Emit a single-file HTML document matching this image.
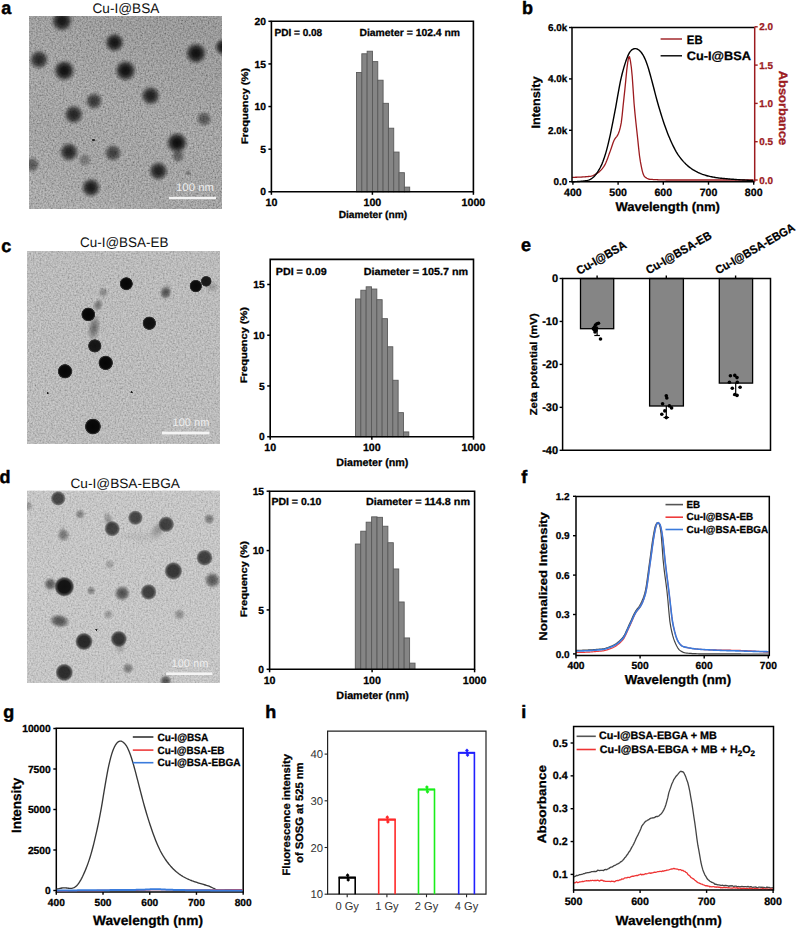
<!DOCTYPE html>
<html><head><meta charset="utf-8"><style>
html,body{margin:0;padding:0;background:#fff;overflow:hidden;width:797px;height:928px;}
svg{display:block;}
text{font-family:"Liberation Sans", sans-serif;text-rendering:geometricPrecision;}
</style></head><body>
<svg width="797" height="928" viewBox="0 0 797 928">
<defs>
<filter id="noise" x="0" y="0" width="100%" height="100%">
<feTurbulence type="fractalNoise" baseFrequency="0.6" numOctaves="2" seed="3"/>
<feColorMatrix type="matrix" values="1.2 0 0 0 -0.1  1.2 0 0 0 -0.1  1.2 0 0 0 -0.1  0 0 0 0 1"/>
</filter>
<filter id="blur3" x="-50%" y="-50%" width="200%" height="200%"><feGaussianBlur stdDeviation="3"/></filter>
<radialGradient id="g_soft"><stop offset="0" stop-color="#080808"/><stop offset="0.3" stop-color="#0c0c0c" stop-opacity="0.96"/><stop offset="0.55" stop-color="#161616" stop-opacity="0.78"/><stop offset="0.75" stop-color="#2a2a2a" stop-opacity="0.42"/><stop offset="0.9" stop-color="#3a3a3a" stop-opacity="0.13"/><stop offset="1" stop-color="#444" stop-opacity="0"/></radialGradient>
<linearGradient id="g_shadeA" x1="0.7" y1="0" x2="0.3" y2="1"><stop offset="0" stop-color="#000" stop-opacity="0.07"/><stop offset="0.5" stop-color="#000" stop-opacity="0"/><stop offset="1" stop-color="#fff" stop-opacity="0.06"/></linearGradient>
<radialGradient id="g_hard"><stop offset="0" stop-color="#050505"/><stop offset="0.75" stop-color="#0a0a0a"/><stop offset="0.92" stop-color="#222" stop-opacity="0.85"/><stop offset="1" stop-color="#444" stop-opacity="0"/></radialGradient>
<radialGradient id="g_cloud"><stop offset="0" stop-color="#444" stop-opacity="0.8"/><stop offset="0.5" stop-color="#555" stop-opacity="0.55"/><stop offset="1" stop-color="#666" stop-opacity="0"/></radialGradient>
<radialGradient id="g_mid"><stop offset="0" stop-color="#111"/><stop offset="0.6" stop-color="#151515"/><stop offset="0.82" stop-color="#222" stop-opacity="0.75"/><stop offset="1" stop-color="#333" stop-opacity="0"/></radialGradient>
</defs>
<rect x="0" y="0" width="797" height="928" fill="#fff"/>
<text x="1.2" y="13.7" font-size="18" font-weight="bold" stroke="#000" stroke-width="0.45">a</text>
<text x="522" y="13.8" font-size="18" font-weight="bold" stroke="#000" stroke-width="0.45">b</text>
<text x="1.2" y="251.7" font-size="18" font-weight="bold" stroke="#000" stroke-width="0.45">c</text>
<text x="521" y="251.4" font-size="18" font-weight="bold" stroke="#000" stroke-width="0.45">e</text>
<text x="-0.6" y="483" font-size="18" font-weight="bold" stroke="#000" stroke-width="0.45">d</text>
<text x="521.2" y="483.1" font-size="18" font-weight="bold" stroke="#000" stroke-width="0.45">f</text>
<text x="3.2" y="718" font-size="18" font-weight="bold" stroke="#000" stroke-width="0.45">g</text>
<text x="265.2" y="717.8" font-size="18" font-weight="bold" stroke="#000" stroke-width="0.45">h</text>
<text x="521.2" y="717.8" font-size="18" font-weight="bold" stroke="#000" stroke-width="0.45">i</text>
<clipPath id="ca"><rect x="29" y="16" width="193" height="193"/></clipPath>
<g clip-path="url(#ca)">
<rect x="29" y="16" width="193" height="193" fill="#939393" stroke="none" stroke-width="1"/>
<rect x="29" y="16" width="193" height="193" fill="#000" filter="url(#noise)" opacity="0.45"/>
<rect x="29" y="16" width="193" height="193" fill="url(#g_shadeA)" stroke="none" stroke-width="1"/>
<circle cx="62" cy="21" r="12.1" fill="url(#g_soft)" opacity="0.9"/>
<circle cx="114.5" cy="42.5" r="11" fill="url(#g_soft)" opacity="0.92"/>
<circle cx="196" cy="53.3" r="12.1" fill="url(#g_soft)" opacity="0.95"/>
<circle cx="223.5" cy="47" r="9.9" fill="url(#g_soft)" opacity="0.9"/>
<circle cx="39" cy="59.6" r="11" fill="url(#g_soft)" opacity="0.8"/>
<circle cx="64.3" cy="70.6" r="12.1" fill="url(#g_soft)" opacity="0.95"/>
<circle cx="125.5" cy="70.6" r="12.1" fill="url(#g_soft)" opacity="0.95"/>
<circle cx="150.6" cy="95.7" r="11" fill="url(#g_soft)" opacity="0.85"/>
<circle cx="94" cy="101" r="9.9" fill="url(#g_soft)" opacity="0.7"/>
<circle cx="73.7" cy="114.5" r="11" fill="url(#g_soft)" opacity="0.82"/>
<circle cx="204" cy="119" r="8.8" fill="url(#g_soft)" opacity="0.5"/>
<circle cx="177" cy="142.7" r="12.1" fill="url(#g_soft)" opacity="0.97"/>
<circle cx="178" cy="156" r="7.7" fill="url(#g_soft)" opacity="0.45"/>
<circle cx="69" cy="152" r="11" fill="url(#g_soft)" opacity="0.82"/>
<circle cx="113" cy="153" r="9.9" fill="url(#g_soft)" opacity="0.65"/>
<circle cx="84.7" cy="160" r="7.7" fill="url(#g_soft)" opacity="0.3"/>
<circle cx="32" cy="164.7" r="8.8" fill="url(#g_soft)" opacity="0.5"/>
<circle cx="158.4" cy="171" r="11" fill="url(#g_soft)" opacity="0.85"/>
<circle cx="91" cy="187.6" r="11" fill="url(#g_soft)" opacity="0.88"/>
<circle cx="93.5" cy="140" r="1.5" fill="url(#g_hard)" opacity="0.8"/>
<circle cx="188" cy="173" r="3.3" fill="url(#g_soft)" opacity="0.3"/>
<rect x="169" y="196.8" width="47" height="2.4" fill="#f4f4f4" stroke="none" stroke-width="1"/>
<text x="176" y="191" font-size="11" font-weight="normal" text-anchor="start" fill="#eeeeee" textLength="38" lengthAdjust="spacingAndGlyphs">100 nm</text>
</g>
<text x="92.5" y="13" font-size="13.8" font-weight="normal" text-anchor="start" fill="#111" textLength="66.8" lengthAdjust="spacingAndGlyphs">Cu-I@BSA</text>
<clipPath id="cc"><rect x="27" y="251" width="193" height="193"/></clipPath>
<g clip-path="url(#cc)">
<rect x="27" y="251" width="193" height="193" fill="#bbbbbb" stroke="none" stroke-width="1"/>
<rect x="27" y="251" width="193" height="193" fill="#000" filter="url(#noise)" opacity="0.36"/>
<ellipse cx="94" cy="328" rx="6.75" ry="14" fill="url(#g_cloud)" opacity="0.9" transform="rotate(10 94 328)"/>
<ellipse cx="98" cy="305" rx="5.25" ry="7" fill="url(#g_cloud)" opacity="0.85" transform="rotate(20 98 305)"/>
<ellipse cx="212" cy="287" rx="7.5" ry="5.6" fill="url(#g_cloud)" opacity="0.4" transform="rotate(0 212 287)"/>
<ellipse cx="166" cy="292" rx="6" ry="9.8" fill="url(#g_cloud)" opacity="0.5" transform="rotate(15 166 292)"/>
<circle cx="126.3" cy="283.7" r="6.8" fill="url(#g_hard)" opacity="1"/>
<circle cx="195.8" cy="286.1" r="6.5" fill="url(#g_hard)" opacity="0.98"/>
<circle cx="206.2" cy="281.3" r="5.6" fill="url(#g_hard)" opacity="0.9"/>
<circle cx="165.7" cy="292.6" r="6.6" fill="url(#g_soft)" opacity="0.45"/>
<circle cx="103.3" cy="292.2" r="5.5" fill="url(#g_soft)" opacity="0.28"/>
<circle cx="88.3" cy="314.4" r="7.2" fill="url(#g_hard)" opacity="1"/>
<circle cx="149.3" cy="323.2" r="7" fill="url(#g_hard)" opacity="0.95"/>
<circle cx="94.8" cy="345.9" r="7" fill="url(#g_hard)" opacity="0.92"/>
<circle cx="105.7" cy="362.9" r="7.5" fill="url(#g_hard)" opacity="1"/>
<circle cx="65" cy="371.3" r="7.5" fill="url(#g_hard)" opacity="1"/>
<circle cx="92.9" cy="426.5" r="8.3" fill="url(#g_hard)" opacity="1"/>
<circle cx="47.6" cy="393.1" r="1.2" fill="url(#g_hard)" opacity="0.9"/>
<circle cx="131.6" cy="392.2" r="1.2" fill="url(#g_hard)" opacity="0.9"/>
<rect x="162" y="431.6" width="47.5" height="2.8" fill="#f4f4f4" stroke="none" stroke-width="1"/>
<text x="172.5" y="425.5" font-size="11" font-weight="normal" text-anchor="start" fill="#eeeeee" textLength="37" lengthAdjust="spacingAndGlyphs">100 nm</text>
</g>
<text x="80" y="247.4" font-size="13.8" font-weight="normal" text-anchor="start" fill="#111" textLength="88.4" lengthAdjust="spacingAndGlyphs">Cu-I@BSA-EB</text>
<clipPath id="cd"><rect x="27" y="490.5" width="193" height="192.5"/></clipPath>
<g clip-path="url(#cd)">
<rect x="27" y="490.5" width="193" height="192.5" fill="#cacaca" stroke="none" stroke-width="1"/>
<rect x="27" y="490.5" width="193" height="192.5" fill="#000" filter="url(#noise)" opacity="0.32"/>
<ellipse cx="108.5" cy="520" rx="5.25" ry="9.8" fill="url(#g_cloud)" opacity="0.55" transform="rotate(-20 108.5 520)"/>
<ellipse cx="120" cy="646" rx="6" ry="8.4" fill="url(#g_cloud)" opacity="0.45" transform="rotate(0 120 646)"/>
<ellipse cx="158" cy="530" rx="7.5" ry="11.2" fill="url(#g_cloud)" opacity="0.5" transform="rotate(40 158 530)"/>
<ellipse cx="140" cy="537" rx="24" ry="5.6" fill="url(#g_cloud)" opacity="0.13" transform="rotate(5 140 537)"/>
<ellipse cx="63" cy="532" rx="4.5" ry="8.4" fill="url(#g_cloud)" opacity="0.3" transform="rotate(-10 63 532)"/>
<circle cx="58.2" cy="498.4" r="7.6" fill="url(#g_mid)" opacity="0.72"/>
<circle cx="80.1" cy="514.3" r="5.5" fill="url(#g_soft)" opacity="0.35"/>
<circle cx="135.4" cy="517.7" r="7.6" fill="url(#g_mid)" opacity="0.72"/>
<circle cx="112.2" cy="528.7" r="8" fill="url(#g_mid)" opacity="0.74"/>
<circle cx="166.2" cy="524.3" r="8.2" fill="url(#g_mid)" opacity="0.74"/>
<circle cx="209.2" cy="519" r="6.05" fill="url(#g_soft)" opacity="0.4"/>
<circle cx="63.5" cy="535.3" r="7.15" fill="url(#g_soft)" opacity="0.35"/>
<circle cx="204.5" cy="557.7" r="8.4" fill="url(#g_mid)" opacity="0.75"/>
<circle cx="173.4" cy="570.9" r="9.2" fill="url(#g_mid)" opacity="0.8"/>
<circle cx="64.3" cy="586.7" r="10.2" fill="url(#g_mid)" opacity="1"/>
<circle cx="50.3" cy="584.1" r="7.15" fill="url(#g_soft)" opacity="0.55"/>
<circle cx="91.1" cy="590.7" r="4.95" fill="url(#g_soft)" opacity="0.35"/>
<circle cx="122.2" cy="593.3" r="8.58" fill="url(#g_soft)" opacity="0.58"/>
<circle cx="148.6" cy="592" r="8.2" fill="url(#g_mid)" opacity="0.75"/>
<circle cx="212.4" cy="580.1" r="8.8" fill="url(#g_soft)" opacity="0.58"/>
<circle cx="108.3" cy="614.4" r="5.5" fill="url(#g_soft)" opacity="0.22"/>
<circle cx="179.4" cy="614.4" r="6.05" fill="url(#g_soft)" opacity="0.3"/>
<circle cx="84" cy="641.5" r="9" fill="url(#g_mid)" opacity="0.88"/>
<circle cx="118.8" cy="638.9" r="8.4" fill="url(#g_mid)" opacity="0.8"/>
<circle cx="64.3" cy="672.4" r="9" fill="url(#g_mid)" opacity="0.85"/>
<circle cx="128" cy="668.4" r="6.05" fill="url(#g_soft)" opacity="0.4"/>
<circle cx="165.7" cy="681" r="6.6" fill="url(#g_soft)" opacity="0.6"/>
<circle cx="109.6" cy="564.3" r="5.5" fill="url(#g_soft)" opacity="0.2"/>
<circle cx="96.4" cy="629.7" r="1.2" fill="url(#g_hard)" opacity="0.9"/>
<circle cx="28" cy="506" r="5.5" fill="url(#g_soft)" opacity="0.25"/>
<ellipse cx="59.5" cy="621" rx="11" ry="7.5" fill="url(#g_soft)" opacity="0.6" transform="rotate(10 59.5 621)"/>
<ellipse cx="122.5" cy="593.5" rx="8.5" ry="7" fill="url(#g_soft)" opacity="0.1" transform="rotate(0 122.5 593.5)"/>
<rect x="166.2" y="672.4" width="46.2" height="2.6" fill="#f4f4f4" stroke="none" stroke-width="1"/>
<text x="171.5" y="667.1" font-size="11" font-weight="normal" text-anchor="start" fill="#eeeeee" textLength="36.9" lengthAdjust="spacingAndGlyphs">100 nm</text>
</g>
<text x="70.5" y="488.1" font-size="13.5" font-weight="normal" text-anchor="start" fill="#111" textLength="109.4" lengthAdjust="spacingAndGlyphs">Cu-I@BSA-EBGA</text>
<rect x="356.5" y="72.45" width="5.32" height="119.35" fill="#858585" stroke="#5a5a5a" stroke-width="0.9"/>
<rect x="361.82" y="53.78" width="5.32" height="138.02" fill="#858585" stroke="#5a5a5a" stroke-width="0.9"/>
<rect x="367.14" y="51.22" width="5.32" height="140.58" fill="#858585" stroke="#5a5a5a" stroke-width="0.9"/>
<rect x="372.46" y="61.62" width="5.32" height="130.18" fill="#858585" stroke="#5a5a5a" stroke-width="0.9"/>
<rect x="377.78" y="80.21" width="5.32" height="111.59" fill="#858585" stroke="#5a5a5a" stroke-width="0.9"/>
<rect x="383.1" y="103.31" width="5.32" height="88.49" fill="#858585" stroke="#5a5a5a" stroke-width="0.9"/>
<rect x="388.42" y="128.2" width="5.32" height="63.6" fill="#858585" stroke="#5a5a5a" stroke-width="0.9"/>
<rect x="393.74" y="152.07" width="5.32" height="39.73" fill="#858585" stroke="#5a5a5a" stroke-width="0.9"/>
<rect x="399.06" y="172.7" width="5.32" height="19.1" fill="#858585" stroke="#5a5a5a" stroke-width="0.9"/>
<rect x="404.38" y="187.11" width="5.32" height="4.69" fill="#858585" stroke="#5a5a5a" stroke-width="0.9"/>
<path d="M271.4,21.3 H473.4 V191.8 H271.4 Z" fill="none" stroke="#000" stroke-width="1.6"/>
<line x1="268.4" y1="191.8" x2="271.4" y2="191.8" stroke="#000" stroke-width="1.5"/>
<text x="265.9" y="195.4" font-size="10.3" font-weight="bold" text-anchor="end" fill="#000" stroke="#000" stroke-width="0.28">0</text>
<line x1="268.4" y1="149.18" x2="271.4" y2="149.18" stroke="#000" stroke-width="1.5"/>
<text x="265.9" y="152.78" font-size="10.3" font-weight="bold" text-anchor="end" fill="#000" stroke="#000" stroke-width="0.28">5</text>
<line x1="268.4" y1="106.55" x2="271.4" y2="106.55" stroke="#000" stroke-width="1.5"/>
<text x="265.9" y="110.15" font-size="10.3" font-weight="bold" text-anchor="end" fill="#000" stroke="#000" stroke-width="0.28">10</text>
<line x1="268.4" y1="63.93" x2="271.4" y2="63.93" stroke="#000" stroke-width="1.5"/>
<text x="265.9" y="67.53" font-size="10.3" font-weight="bold" text-anchor="end" fill="#000" stroke="#000" stroke-width="0.28">15</text>
<line x1="268.4" y1="21.3" x2="271.4" y2="21.3" stroke="#000" stroke-width="1.5"/>
<text x="265.9" y="24.9" font-size="10.3" font-weight="bold" text-anchor="end" fill="#000" stroke="#000" stroke-width="0.28">20</text>
<line x1="271.4" y1="191.8" x2="271.4" y2="194.8" stroke="#000" stroke-width="1.5"/>
<text x="271.4" y="205.6" font-size="10.7" font-weight="bold" text-anchor="middle" fill="#000" stroke="#000" stroke-width="0.28">10</text>
<line x1="372.4" y1="191.8" x2="372.4" y2="194.8" stroke="#000" stroke-width="1.5"/>
<text x="372.4" y="205.6" font-size="10.7" font-weight="bold" text-anchor="middle" fill="#000" stroke="#000" stroke-width="0.28">100</text>
<line x1="473.4" y1="191.8" x2="473.4" y2="194.8" stroke="#000" stroke-width="1.5"/>
<text x="473.4" y="205.6" font-size="10.7" font-weight="bold" text-anchor="middle" fill="#000" stroke="#000" stroke-width="0.28">1000</text>
<text x="372.9" y="218" font-size="10.2" font-weight="bold" text-anchor="middle" fill="#000" textLength="68.5" lengthAdjust="spacingAndGlyphs" stroke="#000" stroke-width="0.28">Diameter (nm)</text>
<text transform="translate(247.7,106) rotate(-90)" x="0" y="0" font-size="9.4" font-weight="bold" text-anchor="middle" fill="#000" textLength="76" lengthAdjust="spacingAndGlyphs" stroke="#000" stroke-width="0.28">Frequency (%)</text>
<text x="274.5" y="35.7" font-size="10.2" font-weight="bold" text-anchor="start" fill="#000" textLength="47.7" lengthAdjust="spacingAndGlyphs" stroke="#000" stroke-width="0.28">PDI = 0.08</text>
<text x="359.5" y="35.7" font-size="10.2" font-weight="bold" text-anchor="start" fill="#000" textLength="100.5" lengthAdjust="spacingAndGlyphs" stroke="#000" stroke-width="0.28">Diameter = 102.4 nm</text>
<rect x="355.5" y="298.98" width="5.33" height="137.72" fill="#858585" stroke="#5a5a5a" stroke-width="0.9"/>
<rect x="360.83" y="290.25" width="5.33" height="146.45" fill="#858585" stroke="#5a5a5a" stroke-width="0.9"/>
<rect x="366.16" y="286.8" width="5.33" height="149.9" fill="#858585" stroke="#5a5a5a" stroke-width="0.9"/>
<rect x="371.49" y="289.03" width="5.33" height="147.67" fill="#858585" stroke="#5a5a5a" stroke-width="0.9"/>
<rect x="376.82" y="299.69" width="5.33" height="137.01" fill="#858585" stroke="#5a5a5a" stroke-width="0.9"/>
<rect x="382.15" y="318.67" width="5.33" height="118.03" fill="#858585" stroke="#5a5a5a" stroke-width="0.9"/>
<rect x="387.48" y="346.78" width="5.33" height="89.92" fill="#858585" stroke="#5a5a5a" stroke-width="0.9"/>
<rect x="392.81" y="380.27" width="5.33" height="56.43" fill="#858585" stroke="#5a5a5a" stroke-width="0.9"/>
<rect x="398.14" y="412.65" width="5.33" height="24.05" fill="#858585" stroke="#5a5a5a" stroke-width="0.9"/>
<rect x="403.47" y="431.93" width="5.33" height="4.77" fill="#858585" stroke="#5a5a5a" stroke-width="0.9"/>
<path d="M270.2,259.4 H473.5 V436.7 H270.2 Z" fill="none" stroke="#000" stroke-width="1.6"/>
<line x1="267.2" y1="436.7" x2="270.2" y2="436.7" stroke="#000" stroke-width="1.5"/>
<text x="264.7" y="440.3" font-size="10.3" font-weight="bold" text-anchor="end" fill="#000" stroke="#000" stroke-width="0.28">0</text>
<line x1="267.2" y1="385.96" x2="270.2" y2="385.96" stroke="#000" stroke-width="1.5"/>
<text x="264.7" y="389.56" font-size="10.3" font-weight="bold" text-anchor="end" fill="#000" stroke="#000" stroke-width="0.28">5</text>
<line x1="267.2" y1="335.21" x2="270.2" y2="335.21" stroke="#000" stroke-width="1.5"/>
<text x="264.7" y="338.81" font-size="10.3" font-weight="bold" text-anchor="end" fill="#000" stroke="#000" stroke-width="0.28">10</text>
<line x1="267.2" y1="284.47" x2="270.2" y2="284.47" stroke="#000" stroke-width="1.5"/>
<text x="264.7" y="288.07" font-size="10.3" font-weight="bold" text-anchor="end" fill="#000" stroke="#000" stroke-width="0.28">15</text>
<line x1="270.2" y1="436.7" x2="270.2" y2="439.7" stroke="#000" stroke-width="1.5"/>
<text x="270.2" y="451.4" font-size="10.7" font-weight="bold" text-anchor="middle" fill="#000" stroke="#000" stroke-width="0.28">10</text>
<line x1="371.85" y1="436.7" x2="371.85" y2="439.7" stroke="#000" stroke-width="1.5"/>
<text x="371.85" y="451.4" font-size="10.7" font-weight="bold" text-anchor="middle" fill="#000" stroke="#000" stroke-width="0.28">100</text>
<line x1="473.5" y1="436.7" x2="473.5" y2="439.7" stroke="#000" stroke-width="1.5"/>
<text x="473.5" y="451.4" font-size="10.7" font-weight="bold" text-anchor="middle" fill="#000" stroke="#000" stroke-width="0.28">1000</text>
<text x="372.35" y="465.5" font-size="10.7" font-weight="bold" text-anchor="middle" fill="#000" textLength="72" lengthAdjust="spacingAndGlyphs" stroke="#000" stroke-width="0.28">Diameter (nm)</text>
<text transform="translate(247.2,345) rotate(-90)" x="0" y="0" font-size="9.4" font-weight="bold" text-anchor="middle" fill="#000" textLength="76" lengthAdjust="spacingAndGlyphs" stroke="#000" stroke-width="0.28">Frequency (%)</text>
<text x="275.8" y="275.3" font-size="10.2" font-weight="bold" text-anchor="start" fill="#000" textLength="50.8" lengthAdjust="spacingAndGlyphs" stroke="#000" stroke-width="0.28">PDI = 0.09</text>
<text x="363.7" y="275.3" font-size="10.2" font-weight="bold" text-anchor="start" fill="#000" textLength="104.5" lengthAdjust="spacingAndGlyphs" stroke="#000" stroke-width="0.28">Diameter = 105.7 nm</text>
<rect x="355.3" y="544.04" width="5.43" height="125.26" fill="#858585" stroke="#5a5a5a" stroke-width="0.9"/>
<rect x="360.73" y="531.21" width="5.43" height="138.09" fill="#858585" stroke="#5a5a5a" stroke-width="0.9"/>
<rect x="366.16" y="522.19" width="5.43" height="147.11" fill="#858585" stroke="#5a5a5a" stroke-width="0.9"/>
<rect x="371.59" y="516.85" width="5.43" height="152.45" fill="#858585" stroke="#5a5a5a" stroke-width="0.9"/>
<rect x="377.02" y="517.32" width="5.43" height="151.98" fill="#858585" stroke="#5a5a5a" stroke-width="0.9"/>
<rect x="382.45" y="526.23" width="5.43" height="143.07" fill="#858585" stroke="#5a5a5a" stroke-width="0.9"/>
<rect x="387.88" y="542.73" width="5.43" height="126.57" fill="#858585" stroke="#5a5a5a" stroke-width="0.9"/>
<rect x="393.31" y="568.97" width="5.43" height="100.33" fill="#858585" stroke="#5a5a5a" stroke-width="0.9"/>
<rect x="398.74" y="601.98" width="5.43" height="67.32" fill="#858585" stroke="#5a5a5a" stroke-width="0.9"/>
<rect x="404.17" y="637.95" width="5.43" height="31.35" fill="#858585" stroke="#5a5a5a" stroke-width="0.9"/>
<rect x="409.6" y="663.13" width="5.43" height="6.17" fill="#858585" stroke="#5a5a5a" stroke-width="0.9"/>
<path d="M269.6,491.2 H474.6 V669.3 H269.6 Z" fill="none" stroke="#000" stroke-width="1.6"/>
<line x1="266.6" y1="669.3" x2="269.6" y2="669.3" stroke="#000" stroke-width="1.5"/>
<text x="264.1" y="672.9" font-size="10.3" font-weight="bold" text-anchor="end" fill="#000" stroke="#000" stroke-width="0.28">0</text>
<line x1="266.6" y1="609.93" x2="269.6" y2="609.93" stroke="#000" stroke-width="1.5"/>
<text x="264.1" y="613.53" font-size="10.3" font-weight="bold" text-anchor="end" fill="#000" stroke="#000" stroke-width="0.28">5</text>
<line x1="266.6" y1="550.57" x2="269.6" y2="550.57" stroke="#000" stroke-width="1.5"/>
<text x="264.1" y="554.17" font-size="10.3" font-weight="bold" text-anchor="end" fill="#000" stroke="#000" stroke-width="0.28">10</text>
<line x1="266.6" y1="491.2" x2="269.6" y2="491.2" stroke="#000" stroke-width="1.5"/>
<text x="264.1" y="494.8" font-size="10.3" font-weight="bold" text-anchor="end" fill="#000" stroke="#000" stroke-width="0.28">15</text>
<line x1="269.6" y1="669.3" x2="269.6" y2="672.3" stroke="#000" stroke-width="1.5"/>
<text x="269.6" y="684.3" font-size="10.7" font-weight="bold" text-anchor="middle" fill="#000" stroke="#000" stroke-width="0.28">10</text>
<line x1="372.1" y1="669.3" x2="372.1" y2="672.3" stroke="#000" stroke-width="1.5"/>
<text x="372.1" y="684.3" font-size="10.7" font-weight="bold" text-anchor="middle" fill="#000" stroke="#000" stroke-width="0.28">100</text>
<line x1="474.6" y1="669.3" x2="474.6" y2="672.3" stroke="#000" stroke-width="1.5"/>
<text x="474.6" y="684.3" font-size="10.7" font-weight="bold" text-anchor="middle" fill="#000" stroke="#000" stroke-width="0.28">1000</text>
<text x="372.6" y="699.2" font-size="10.7" font-weight="bold" text-anchor="middle" fill="#000" textLength="72.5" lengthAdjust="spacingAndGlyphs" stroke="#000" stroke-width="0.28">Diameter (nm)</text>
<text transform="translate(247.2,579) rotate(-90)" x="0" y="0" font-size="9.4" font-weight="bold" text-anchor="middle" fill="#000" textLength="76" lengthAdjust="spacingAndGlyphs" stroke="#000" stroke-width="0.28">Frequency (%)</text>
<text x="271.4" y="505.2" font-size="10.2" font-weight="bold" text-anchor="start" fill="#000" textLength="50" lengthAdjust="spacingAndGlyphs" stroke="#000" stroke-width="0.28">PDI = 0.10</text>
<text x="366" y="505.4" font-size="10.2" font-weight="bold" text-anchor="start" fill="#000" textLength="104" lengthAdjust="spacingAndGlyphs" stroke="#000" stroke-width="0.28">Diameter = 114.8 nm</text>
<path d="M572,177.3 L572.91,177.3 L573.83,177.29 L574.74,177.28 L575.65,177.26 L576.56,177.24 L577.48,177.21 L578.39,177.18 L579.3,177.14 L580.21,177.09 L581.13,177.05 L582.04,176.99 L582.95,176.93 L583.86,176.87 L584.78,176.8 L585.69,176.73 L586.6,176.65 L587.51,176.57 L588.43,176.48 L589.34,176.38 L590.25,176.28 L591.16,176.11 L592.08,175.85 L592.99,175.5 L593.9,175.09 L594.81,174.62 L595.73,174.11 L596.64,173.58 L597.55,173.02 L598.46,172.37 L599.38,171.64 L600.29,170.8 L601.2,169.86 L602.11,168.82 L603.03,167.68 L603.94,166.43 L604.85,164.95 L605.76,163.05 L606.68,160.83 L607.59,158.4 L608.5,155.86 L609.42,153.31 L610.33,150.86 L611.24,148.24 L612.15,145.46 L613.07,142.8 L613.98,140.55 L614.89,138.92 L615.8,137.7 L616.72,136.57 L617.63,135.21 L618.54,133.31 L619.45,130.66 L620.37,127.15 L621.28,122.66 L622.19,115.1 L623.1,105.9 L624.02,97.43 L624.93,88.83 L625.84,79.57 L626.75,70.08 L627.67,62.91 L628.58,57.34 L629.49,56.69 L630.4,60.92 L631.32,67.26 L632.23,76.55 L633.14,89.66 L634.05,103.21 L634.97,113.38 L635.88,122.23 L636.79,130.49 L637.7,138.92 L638.62,147.84 L639.53,155.99 L640.44,161.96 L641.35,166.67 L642.27,170.82 L643.18,174.06 L644.09,176.06 L645.01,176.94 L645.92,177.66 L646.83,178.26 L647.74,178.72 L648.66,179.05 L649.57,179.25 L650.48,179.34 L651.39,179.4 L652.31,179.47 L653.22,179.53 L654.13,179.58 L655.04,179.63 L655.96,179.68 L656.87,179.72 L657.78,179.76 L658.69,179.8 L659.61,179.83 L660.52,179.86 L661.43,179.89 L662.34,179.91 L663.26,179.93 L664.17,179.95 L665.08,179.97 L665.99,179.98 L666.91,179.99 L667.82,179.99 L668.73,180 L669.64,180 L670.56,180 L671.47,180 L672.38,180 L673.29,180 L674.21,180 L675.12,180 L676.03,180 L676.94,180 L677.86,180 L678.77,180 L679.68,180 L680.59,180 L681.51,180 L682.42,180 L683.33,180 L684.25,180 L685.16,180 L686.07,180 L686.98,180 L687.9,180 L688.81,180 L689.72,180 L690.63,180 L691.55,180 L692.46,180 L693.37,180 L694.28,180 L695.2,180 L696.11,180 L697.02,180 L697.93,180 L698.85,180 L699.76,180 L700.67,180 L701.58,180 L702.5,180 L703.41,180 L704.32,180 L705.23,180 L706.15,180 L707.06,180 L707.97,180 L708.88,180 L709.8,180 L710.71,180 L711.62,180 L712.53,180 L713.45,180 L714.36,180 L715.27,180 L716.18,180 L717.1,180 L718.01,180 L718.92,180 L719.84,180 L720.75,180 L721.66,180 L722.57,180 L723.49,180 L724.4,180 L725.31,180 L726.22,180 L727.14,180 L728.05,180 L728.96,180 L729.87,180 L730.79,180 L731.7,180 L732.61,180 L733.52,180 L734.44,180 L735.35,180 L736.26,180 L737.17,180 L738.09,180 L739,180 L739.91,180 L740.82,180 L741.74,180 L742.65,180 L743.56,180 L744.47,180 L745.39,180 L746.3,180 L747.21,180 L748.12,180 L749.04,180 L749.95,180 L750.86,180 L751.77,180 L752.69,180 L753.6,180" fill="none" stroke="#9c1b1f" stroke-width="1.3" stroke-linejoin="round"/>
<path d="M572,181.8 L572.91,181.77 L573.82,181.73 L574.74,181.69 L575.65,181.65 L576.56,181.61 L577.47,181.56 L578.38,181.5 L579.3,181.44 L580.21,181.37 L581.12,181.29 L582.03,181.2 L582.94,181.1 L583.86,180.99 L584.77,180.87 L585.68,180.73 L586.59,180.57 L587.51,180.37 L588.42,180.11 L589.33,179.79 L590.24,179.39 L591.15,178.89 L592.07,178.28 L592.98,177.55 L593.89,176.7 L594.8,175.73 L595.71,174.65 L596.63,173.45 L597.54,172.14 L598.45,170.72 L599.36,169.19 L600.27,167.51 L601.19,165.67 L602.1,163.62 L603.01,161.36 L603.92,158.85 L604.83,156.09 L605.75,153.08 L606.66,149.83 L607.57,146.34 L608.48,142.62 L609.39,138.68 L610.31,134.53 L611.22,130.2 L612.13,125.72 L613.04,121.13 L613.95,116.46 L614.87,111.69 L615.78,106.77 L616.69,101.67 L617.6,96.44 L618.52,91.26 L619.43,86.28 L620.34,81.68 L621.25,77.54 L622.16,73.79 L623.08,70.36 L623.99,67.17 L624.9,64.16 L625.81,61.34 L626.72,58.74 L627.64,56.41 L628.55,54.38 L629.46,52.7 L630.37,51.37 L631.28,50.34 L632.2,49.58 L633.11,49.05 L634.02,48.74 L634.93,48.62 L635.84,48.67 L636.76,48.88 L637.67,49.26 L638.58,49.8 L639.49,50.52 L640.4,51.42 L641.32,52.5 L642.23,53.76 L643.14,55.23 L644.05,56.92 L644.96,58.84 L645.88,61 L646.79,63.43 L647.7,66.13 L648.61,69.07 L649.53,72.19 L650.44,75.46 L651.35,78.83 L652.26,82.26 L653.17,85.75 L654.09,89.28 L655,92.83 L655.91,96.34 L656.82,99.77 L657.73,103.06 L658.65,106.22 L659.56,109.28 L660.47,112.28 L661.38,115.24 L662.29,118.13 L663.21,120.96 L664.12,123.69 L665.03,126.32 L665.94,128.85 L666.85,131.29 L667.77,133.64 L668.68,135.91 L669.59,138.09 L670.5,140.19 L671.41,142.23 L672.33,144.2 L673.24,146.1 L674.15,147.92 L675.06,149.65 L675.97,151.29 L676.89,152.83 L677.8,154.28 L678.71,155.64 L679.62,156.92 L680.54,158.12 L681.45,159.27 L682.36,160.35 L683.27,161.39 L684.18,162.37 L685.1,163.31 L686.01,164.2 L686.92,165.05 L687.83,165.85 L688.74,166.61 L689.66,167.34 L690.57,168.03 L691.48,168.68 L692.39,169.3 L693.3,169.89 L694.22,170.45 L695.13,170.98 L696.04,171.48 L696.95,171.95 L697.86,172.4 L698.78,172.82 L699.69,173.22 L700.6,173.6 L701.51,173.95 L702.42,174.29 L703.34,174.61 L704.25,174.91 L705.16,175.19 L706.07,175.46 L706.98,175.71 L707.9,175.95 L708.81,176.18 L709.72,176.39 L710.63,176.59 L711.55,176.78 L712.46,176.96 L713.37,177.13 L714.28,177.29 L715.19,177.44 L716.11,177.58 L717.02,177.71 L717.93,177.84 L718.84,177.96 L719.75,178.07 L720.67,178.18 L721.58,178.28 L722.49,178.37 L723.4,178.47 L724.31,178.55 L725.23,178.64 L726.14,178.72 L727.05,178.8 L727.96,178.88 L728.87,178.96 L729.79,179.04 L730.7,179.11 L731.61,179.18 L732.52,179.25 L733.43,179.32 L734.35,179.39 L735.26,179.46 L736.17,179.52 L737.08,179.59 L737.99,179.65 L738.91,179.71 L739.82,179.77 L740.73,179.83 L741.64,179.89 L742.56,179.95 L743.47,180 L744.38,180.06 L745.29,180.12 L746.2,180.17 L747.12,180.23 L748.03,180.28 L748.94,180.33 L749.85,180.39 L750.76,180.44 L751.68,180.49 L752.59,180.55 L753.5,180.6" fill="none" stroke="#000" stroke-width="1.4" stroke-linejoin="round"/>
<path d="M754.7,27.5 H572 V181.7 H754.7" fill="none" stroke="#000" stroke-width="1.5"/>
<line x1="754.7" y1="26.8" x2="754.7" y2="181.7" stroke="#9c1b1f" stroke-width="1.5"/>
<line x1="569" y1="181.7" x2="572" y2="181.7" stroke="#000" stroke-width="1.4"/>
<text x="567.2" y="185.2" font-size="9.9" font-weight="bold" text-anchor="end" fill="#000" stroke="#000" stroke-width="0.28">0.0</text>
<line x1="569" y1="130.3" x2="572" y2="130.3" stroke="#000" stroke-width="1.4"/>
<text x="567.2" y="133.8" font-size="9.9" font-weight="bold" text-anchor="end" fill="#000" stroke="#000" stroke-width="0.28">2.0k</text>
<line x1="569" y1="78.9" x2="572" y2="78.9" stroke="#000" stroke-width="1.4"/>
<text x="567.2" y="82.4" font-size="9.9" font-weight="bold" text-anchor="end" fill="#000" stroke="#000" stroke-width="0.28">4.0k</text>
<line x1="569" y1="27.5" x2="572" y2="27.5" stroke="#000" stroke-width="1.4"/>
<text x="567.2" y="31" font-size="9.9" font-weight="bold" text-anchor="end" fill="#000" stroke="#000" stroke-width="0.28">6.0k</text>
<line x1="754.7" y1="180" x2="757.7" y2="180" stroke="#9c1b1f" stroke-width="1.4"/>
<text x="759.2" y="183.5" font-size="9.9" font-weight="bold" text-anchor="start" fill="#9c1b1f" stroke="#9c1b1f" stroke-width="0.28">0.0</text>
<line x1="754.7" y1="141.7" x2="757.7" y2="141.7" stroke="#9c1b1f" stroke-width="1.4"/>
<text x="759.2" y="145.2" font-size="9.9" font-weight="bold" text-anchor="start" fill="#9c1b1f" stroke="#9c1b1f" stroke-width="0.28">0.5</text>
<line x1="754.7" y1="103.4" x2="757.7" y2="103.4" stroke="#9c1b1f" stroke-width="1.4"/>
<text x="759.2" y="106.9" font-size="9.9" font-weight="bold" text-anchor="start" fill="#9c1b1f" stroke="#9c1b1f" stroke-width="0.28">1.0</text>
<line x1="754.7" y1="65.1" x2="757.7" y2="65.1" stroke="#9c1b1f" stroke-width="1.4"/>
<text x="759.2" y="68.6" font-size="9.9" font-weight="bold" text-anchor="start" fill="#9c1b1f" stroke="#9c1b1f" stroke-width="0.28">1.5</text>
<line x1="754.7" y1="26.8" x2="757.7" y2="26.8" stroke="#9c1b1f" stroke-width="1.4"/>
<text x="759.2" y="30.3" font-size="9.9" font-weight="bold" text-anchor="start" fill="#9c1b1f" stroke="#9c1b1f" stroke-width="0.28">2.0</text>
<line x1="572.9" y1="181.7" x2="572.9" y2="184.7" stroke="#000" stroke-width="1.4"/>
<text x="572.9" y="195.6" font-size="10.6" font-weight="bold" text-anchor="middle" fill="#000" stroke="#000" stroke-width="0.28">400</text>
<line x1="618.1" y1="181.7" x2="618.1" y2="184.7" stroke="#000" stroke-width="1.4"/>
<text x="618.1" y="195.6" font-size="10.6" font-weight="bold" text-anchor="middle" fill="#000" stroke="#000" stroke-width="0.28">500</text>
<line x1="663.3" y1="181.7" x2="663.3" y2="184.7" stroke="#000" stroke-width="1.4"/>
<text x="663.3" y="195.6" font-size="10.6" font-weight="bold" text-anchor="middle" fill="#000" stroke="#000" stroke-width="0.28">600</text>
<line x1="708.5" y1="181.7" x2="708.5" y2="184.7" stroke="#000" stroke-width="1.4"/>
<text x="708.5" y="195.6" font-size="10.6" font-weight="bold" text-anchor="middle" fill="#000" stroke="#000" stroke-width="0.28">700</text>
<line x1="753.7" y1="181.7" x2="753.7" y2="184.7" stroke="#000" stroke-width="1.4"/>
<text x="753.7" y="195.6" font-size="10.6" font-weight="bold" text-anchor="middle" fill="#000" stroke="#000" stroke-width="0.28">800</text>
<text x="667.7" y="211" font-size="12.6" font-weight="bold" text-anchor="middle" fill="#000" textLength="104.5" lengthAdjust="spacingAndGlyphs" stroke="#000" stroke-width="0.28">Wavelength (nm)</text>
<text transform="translate(540,102.5) rotate(-90)" x="0" y="0" font-size="12.2" font-weight="bold" text-anchor="middle" fill="#000" textLength="52" lengthAdjust="spacingAndGlyphs" stroke="#000" stroke-width="0.28">Intensity</text>
<text transform="translate(778.5,108) rotate(90)" x="0" y="0" font-size="12.2" font-weight="bold" text-anchor="middle" fill="#9c1b1f" textLength="74.6" lengthAdjust="spacingAndGlyphs" stroke="#9c1b1f" stroke-width="0.28">Absorbance</text>
<line x1="660.6" y1="39" x2="682" y2="39" stroke="#9c1b1f" stroke-width="1.4"/>
<line x1="660.6" y1="55.8" x2="682" y2="55.8" stroke="#000" stroke-width="1.4"/>
<text x="686.8" y="43.8" font-size="12.2" font-weight="bold" text-anchor="start" fill="#000" textLength="15.8" lengthAdjust="spacingAndGlyphs" stroke="#000" stroke-width="0.28">EB</text>
<text x="686.8" y="60" font-size="12.2" font-weight="bold" text-anchor="start" fill="#000" textLength="64.2" lengthAdjust="spacingAndGlyphs" stroke="#000" stroke-width="0.28">Cu-I@BSA</text>
<rect x="580.5" y="278.5" width="33.2" height="50.2" fill="#858585" stroke="#000" stroke-width="1.3"/>
<rect x="649.6" y="278.5" width="33.8" height="127.5" fill="#858585" stroke="#000" stroke-width="1.3"/>
<rect x="719.3" y="278.5" width="33.3" height="104.6" fill="#858585" stroke="#000" stroke-width="1.3"/>
<path d="M562.6,278.5 H770.5 V450.3 H562.6 Z" fill="none" stroke="#000" stroke-width="1.5"/>
<line x1="559.6" y1="278.5" x2="562.6" y2="278.5" stroke="#000" stroke-width="1.4"/>
<text x="558.1" y="282.4" font-size="11" font-weight="bold" text-anchor="end" fill="#000" stroke="#000" stroke-width="0.28">0</text>
<line x1="559.6" y1="321.45" x2="562.6" y2="321.45" stroke="#000" stroke-width="1.4"/>
<text x="558.1" y="325.35" font-size="11" font-weight="bold" text-anchor="end" fill="#000" stroke="#000" stroke-width="0.28">-10</text>
<line x1="559.6" y1="364.4" x2="562.6" y2="364.4" stroke="#000" stroke-width="1.4"/>
<text x="558.1" y="368.3" font-size="11" font-weight="bold" text-anchor="end" fill="#000" stroke="#000" stroke-width="0.28">-20</text>
<line x1="559.6" y1="407.35" x2="562.6" y2="407.35" stroke="#000" stroke-width="1.4"/>
<text x="558.1" y="411.25" font-size="11" font-weight="bold" text-anchor="end" fill="#000" stroke="#000" stroke-width="0.28">-30</text>
<line x1="559.6" y1="450.3" x2="562.6" y2="450.3" stroke="#000" stroke-width="1.4"/>
<text x="558.1" y="454.2" font-size="11" font-weight="bold" text-anchor="end" fill="#000" stroke="#000" stroke-width="0.28">-40</text>
<line x1="597.1" y1="275.5" x2="597.1" y2="278.5" stroke="#000" stroke-width="1.4"/>
<line x1="666.3" y1="275.5" x2="666.3" y2="278.5" stroke="#000" stroke-width="1.4"/>
<line x1="735.6" y1="275.5" x2="735.6" y2="278.5" stroke="#000" stroke-width="1.4"/>
<text transform="translate(579.3,275) rotate(-30)" x="0" y="0" font-size="11.8" font-weight="bold" stroke="#000" stroke-width="0.28" textLength="55.5" lengthAdjust="spacingAndGlyphs">Cu-I@BSA</text>
<text transform="translate(648.8,274.5) rotate(-30)" x="0" y="0" font-size="11.8" font-weight="bold" stroke="#000" stroke-width="0.28" textLength="73.5" lengthAdjust="spacingAndGlyphs">Cu-I@BSA-EB</text>
<text transform="translate(718.3,274.5) rotate(-30)" x="0" y="0" font-size="11.8" font-weight="bold" stroke="#000" stroke-width="0.28" textLength="89.5" lengthAdjust="spacingAndGlyphs">Cu-I@BSA-EBGA</text>
<text transform="translate(536.5,364.3) rotate(-90)" x="0" y="0" font-size="10" font-weight="bold" text-anchor="middle" fill="#000" textLength="102" lengthAdjust="spacingAndGlyphs" stroke="#000" stroke-width="0.28">Zeta potential (mV)</text>
<line x1="597.1" y1="328.7" x2="597.1" y2="335.5" stroke="#000" stroke-width="1.2"/>
<line x1="594.3" y1="335.5" x2="599.9" y2="335.5" stroke="#000" stroke-width="1.2"/>
<line x1="666.3" y1="406" x2="666.3" y2="417.5" stroke="#000" stroke-width="1.2"/>
<line x1="663.5" y1="417.5" x2="669.1" y2="417.5" stroke="#000" stroke-width="1.2"/>
<line x1="735.7" y1="383.1" x2="735.7" y2="395" stroke="#000" stroke-width="1.2"/>
<line x1="732.9" y1="395" x2="738.5" y2="395" stroke="#000" stroke-width="1.2"/>
<circle cx="594.5" cy="327" r="1.8" fill="#000"/>
<circle cx="595.5" cy="325" r="1.8" fill="#000"/>
<circle cx="597" cy="323.8" r="1.8" fill="#000"/>
<circle cx="598.5" cy="323.2" r="1.8" fill="#000"/>
<circle cx="594" cy="329.5" r="1.8" fill="#000"/>
<circle cx="596" cy="330.5" r="1.8" fill="#000"/>
<circle cx="595" cy="332" r="1.8" fill="#000"/>
<circle cx="596.5" cy="328" r="1.8" fill="#000"/>
<circle cx="593.3" cy="328.5" r="1.8" fill="#000"/>
<circle cx="600.5" cy="339" r="1.8" fill="#000"/>
<circle cx="666.3" cy="395.8" r="1.8" fill="#000"/>
<circle cx="666.8" cy="398" r="1.8" fill="#000"/>
<circle cx="662.6" cy="403.8" r="1.8" fill="#000"/>
<circle cx="669.4" cy="405.9" r="1.8" fill="#000"/>
<circle cx="671.6" cy="407.9" r="1.8" fill="#000"/>
<circle cx="664.8" cy="410.9" r="1.8" fill="#000"/>
<circle cx="661.8" cy="414.3" r="1.8" fill="#000"/>
<circle cx="666.3" cy="417.6" r="1.8" fill="#000"/>
<circle cx="730.4" cy="375.7" r="1.8" fill="#000"/>
<circle cx="734.8" cy="375.4" r="1.8" fill="#000"/>
<circle cx="737" cy="377.6" r="1.8" fill="#000"/>
<circle cx="729.4" cy="382.3" r="1.8" fill="#000"/>
<circle cx="737.3" cy="382.3" r="1.8" fill="#000"/>
<circle cx="732.3" cy="388.2" r="1.8" fill="#000"/>
<circle cx="740.1" cy="387.3" r="1.8" fill="#000"/>
<circle cx="734.8" cy="394.5" r="1.8" fill="#000"/>
<circle cx="737" cy="395.4" r="1.8" fill="#000"/>
<path d="M576,650.3 L576.97,650.3 L577.93,650.29 L578.9,650.28 L579.87,650.27 L580.84,650.25 L581.8,650.23 L582.77,650.2 L583.74,650.17 L584.71,650.14 L585.67,650.1 L586.64,650.06 L587.61,650.02 L588.58,649.97 L589.54,649.92 L590.51,649.86 L591.48,649.81 L592.44,649.74 L593.41,649.68 L594.38,649.61 L595.35,649.54 L596.31,649.46 L597.28,649.39 L598.25,649.31 L599.22,649.22 L600.18,649.13 L601.15,649.04 L602.12,648.94 L603.09,648.8 L604.05,648.62 L605.02,648.39 L605.99,648.13 L606.95,647.83 L607.92,647.51 L608.89,647.16 L609.86,646.78 L610.82,646.39 L611.79,645.98 L612.76,645.55 L613.73,645.06 L614.69,644.52 L615.66,643.92 L616.63,643.26 L617.6,642.54 L618.56,641.75 L619.53,640.89 L620.5,639.97 L621.46,638.97 L622.43,637.91 L623.4,636.68 L624.37,635.08 L625.33,633.2 L626.3,631.12 L627.27,628.94 L628.24,626.74 L629.2,624.62 L630.17,622.58 L631.14,620.44 L632.11,618.26 L633.07,616.1 L634.04,614.06 L635.01,612.19 L635.97,610.58 L636.94,609.24 L637.91,608.01 L638.88,606.75 L639.84,605.29 L640.81,603.54 L641.78,601.59 L642.75,599.36 L643.71,596.74 L644.68,593.65 L645.65,589.61 L646.62,583.81 L647.58,576.86 L648.55,569.5 L649.52,562.46 L650.48,555.61 L651.45,548.39 L652.42,541.41 L653.39,535.24 L654.35,530.17 L655.32,525.99 L656.29,523.91 L657.26,522.71 L658.22,522.87 L659.19,524.14 L660.16,527.41 L661.13,534 L662.09,545.85 L663.06,559.27 L664.03,568.56 L664.99,576.12 L665.96,583.17 L666.93,590.75 L667.9,600.2 L668.86,611.34 L669.83,621.1 L670.8,627.11 L671.77,631.76 L672.73,635.67 L673.7,638.92 L674.67,641.61 L675.64,643.83 L676.6,645.82 L677.57,647.57 L678.54,649.02 L679.51,650.11 L680.47,650.81 L681.44,651.39 L682.41,651.9 L683.37,652.33 L684.34,652.66 L685.31,652.9 L686.28,653.03 L687.24,653.13 L688.21,653.23 L689.18,653.31 L690.15,653.39 L691.11,653.46 L692.08,653.53 L693.05,653.59 L694.02,653.64 L694.98,653.68 L695.95,653.72 L696.92,653.75 L697.88,653.77 L698.85,653.79 L699.82,653.8 L700.79,653.81 L701.75,653.81 L702.72,653.82 L703.69,653.82 L704.66,653.83 L705.62,653.84 L706.59,653.84 L707.56,653.85 L708.53,653.85 L709.49,653.86 L710.46,653.86 L711.43,653.87 L712.39,653.87 L713.36,653.88 L714.33,653.88 L715.3,653.89 L716.26,653.89 L717.23,653.9 L718.2,653.9 L719.17,653.91 L720.13,653.91 L721.1,653.92 L722.07,653.92 L723.04,653.92 L724,653.93 L724.97,653.93 L725.94,653.93 L726.9,653.94 L727.87,653.94 L728.84,653.94 L729.81,653.95 L730.77,653.95 L731.74,653.95 L732.71,653.96 L733.68,653.96 L734.64,653.96 L735.61,653.96 L736.58,653.97 L737.55,653.97 L738.51,653.97 L739.48,653.97 L740.45,653.97 L741.41,653.98 L742.38,653.98 L743.35,653.98 L744.32,653.98 L745.28,653.98 L746.25,653.98 L747.22,653.99 L748.19,653.99 L749.15,653.99 L750.12,653.99 L751.09,653.99 L752.06,653.99 L753.02,653.99 L753.99,653.99 L754.96,653.99 L755.92,654 L756.89,654 L757.86,654 L758.83,654 L759.79,654 L760.76,654 L761.73,654 L762.7,654 L763.66,654 L764.63,654 L765.6,654 L766.57,654 L767.53,654 L768.5,654" fill="none" stroke="#444" stroke-width="1.2" stroke-linejoin="round"/>
<path d="M576,652.5 L576.97,652.5 L577.93,652.49 L578.9,652.48 L579.87,652.46 L580.84,652.44 L581.8,652.41 L582.77,652.38 L583.74,652.35 L584.71,652.31 L585.67,652.26 L586.64,652.21 L587.61,652.16 L588.58,652.11 L589.54,652.05 L590.51,651.98 L591.48,651.91 L592.44,651.84 L593.41,651.77 L594.38,651.69 L595.35,651.61 L596.31,651.52 L597.28,651.43 L598.25,651.34 L599.22,651.25 L600.18,651.15 L601.15,651.05 L602.12,650.94 L603.09,650.8 L604.05,650.62 L605.02,650.41 L605.99,650.16 L606.95,649.89 L607.92,649.59 L608.89,649.27 L609.86,648.92 L610.82,648.55 L611.79,648.17 L612.76,647.76 L613.73,647.3 L614.69,646.77 L615.66,646.19 L616.63,645.54 L617.6,644.83 L618.56,644.06 L619.53,643.22 L620.5,642.31 L621.46,641.34 L622.43,640.3 L623.4,639.11 L624.37,637.57 L625.33,635.75 L626.3,633.73 L627.27,631.58 L628.24,629.38 L629.2,627.21 L630.17,625.14 L631.14,623 L632.11,620.75 L633.07,618.48 L634.04,616.28 L635.01,614.25 L635.97,612.47 L636.94,611.02 L637.91,609.79 L638.88,608.6 L639.84,607.32 L640.81,605.76 L641.78,603.89 L642.75,601.75 L643.71,599.26 L644.68,596.34 L645.65,592.91 L646.62,588.15 L647.58,581.88 L648.55,574.76 L649.52,567.47 L650.48,560.64 L651.45,553.67 L652.42,546.51 L653.39,539.7 L654.35,533.78 L655.32,528.67 L656.29,525.02 L657.26,523.26 L658.22,522.61 L659.19,523.33 L660.16,524.8 L661.13,528.34 L662.09,533.54 L663.06,541.09 L664.03,550.63 L664.99,560.1 L665.96,568.24 L666.93,576 L667.9,583.6 L668.86,591.22 L669.83,599.33 L670.8,608.1 L671.77,616.39 L672.73,623.02 L673.7,627.61 L674.67,631.65 L675.64,635.18 L676.6,638.16 L677.57,640.51 L678.54,642.2 L679.51,643.54 L680.47,644.69 L681.44,645.61 L682.41,646.26 L683.37,646.61 L684.34,646.89 L685.31,647.14 L686.28,647.38 L687.24,647.61 L688.21,647.81 L689.18,648.01 L690.15,648.19 L691.11,648.35 L692.08,648.51 L693.05,648.65 L694.02,648.77 L694.98,648.89 L695.95,649 L696.92,649.1 L697.88,649.19 L698.85,649.27 L699.82,649.34 L700.79,649.41 L701.75,649.47 L702.72,649.52 L703.69,649.57 L704.66,649.61 L705.62,649.65 L706.59,649.69 L707.56,649.73 L708.53,649.76 L709.49,649.79 L710.46,649.82 L711.43,649.85 L712.39,649.88 L713.36,649.9 L714.33,649.93 L715.3,649.95 L716.26,649.97 L717.23,649.99 L718.2,650.01 L719.17,650.03 L720.13,650.04 L721.1,650.06 L722.07,650.08 L723.04,650.09 L724,650.11 L724.97,650.12 L725.94,650.14 L726.9,650.16 L727.87,650.17 L728.84,650.19 L729.81,650.21 L730.77,650.22 L731.74,650.24 L732.71,650.26 L733.68,650.28 L734.64,650.31 L735.61,650.33 L736.58,650.35 L737.55,650.38 L738.51,650.41 L739.48,650.44 L740.45,650.47 L741.41,650.5 L742.38,650.54 L743.35,650.58 L744.32,650.62 L745.28,650.66 L746.25,650.71 L747.22,650.76 L748.19,650.81 L749.15,650.86 L750.12,650.91 L751.09,650.97 L752.06,651.03 L753.02,651.09 L753.99,651.15 L754.96,651.21 L755.92,651.27 L756.89,651.34 L757.86,651.4 L758.83,651.47 L759.79,651.54 L760.76,651.61 L761.73,651.68 L762.7,651.75 L763.66,651.83 L764.63,651.9 L765.6,651.97 L766.57,652.05 L767.53,652.12 L768.5,652.2" fill="none" stroke="#ee3b3b" stroke-width="1.2" stroke-linejoin="round"/>
<path d="M576,651 L576.97,651 L577.93,650.99 L578.9,650.98 L579.87,650.96 L580.84,650.94 L581.8,650.92 L582.77,650.89 L583.74,650.86 L584.71,650.82 L585.67,650.78 L586.64,650.74 L587.61,650.69 L588.58,650.64 L589.54,650.58 L590.51,650.52 L591.48,650.46 L592.44,650.39 L593.41,650.32 L594.38,650.25 L595.35,650.17 L596.31,650.09 L597.28,650.01 L598.25,649.92 L599.22,649.83 L600.18,649.74 L601.15,649.65 L602.12,649.54 L603.09,649.4 L604.05,649.22 L605.02,649 L605.99,648.74 L606.95,648.46 L607.92,648.14 L608.89,647.81 L609.86,647.45 L610.82,647.07 L611.79,646.67 L612.76,646.26 L613.73,645.79 L614.69,645.27 L615.66,644.69 L616.63,644.05 L617.6,643.35 L618.56,642.59 L619.53,641.77 L620.5,640.88 L621.46,639.92 L622.43,638.9 L623.4,637.72 L624.37,636.2 L625.33,634.41 L626.3,632.42 L627.27,630.31 L628.24,628.16 L629.2,626.05 L630.17,624.05 L631.14,622.01 L632.11,619.87 L633.07,617.73 L634.04,615.66 L635.01,613.75 L635.97,612.08 L636.94,610.72 L637.91,609.56 L638.88,608.46 L639.84,607.24 L640.81,605.75 L641.78,603.93 L642.75,601.8 L643.71,599.29 L644.68,596.35 L645.65,592.91 L646.62,588.15 L647.58,581.88 L648.55,574.76 L649.52,567.47 L650.48,560.64 L651.45,553.67 L652.42,546.51 L653.39,539.7 L654.35,533.78 L655.32,528.67 L656.29,525.02 L657.26,523.26 L658.22,522.61 L659.19,523.33 L660.16,524.8 L661.13,528.34 L662.09,533.54 L663.06,541.09 L664.03,550.63 L664.99,560.1 L665.96,568.24 L666.93,576 L667.9,583.6 L668.86,591.22 L669.83,599.33 L670.8,608.1 L671.77,616.39 L672.73,623.02 L673.7,627.61 L674.67,631.65 L675.64,635.18 L676.6,638.16 L677.57,640.51 L678.54,642.2 L679.51,643.54 L680.47,644.69 L681.44,645.61 L682.41,646.26 L683.37,646.61 L684.34,646.88 L685.31,647.14 L686.28,647.37 L687.24,647.59 L688.21,647.8 L689.18,647.98 L690.15,648.16 L691.11,648.32 L692.08,648.46 L693.05,648.6 L694.02,648.72 L694.98,648.84 L695.95,648.94 L696.92,649.04 L697.88,649.13 L698.85,649.21 L699.82,649.29 L700.79,649.36 L701.75,649.43 L702.72,649.49 L703.69,649.55 L704.66,649.62 L705.62,649.68 L706.59,649.73 L707.56,649.79 L708.53,649.84 L709.49,649.89 L710.46,649.94 L711.43,649.99 L712.39,650.04 L713.36,650.08 L714.33,650.13 L715.3,650.17 L716.26,650.21 L717.23,650.25 L718.2,650.29 L719.17,650.32 L720.13,650.36 L721.1,650.39 L722.07,650.43 L723.04,650.46 L724,650.49 L724.97,650.52 L725.94,650.55 L726.9,650.58 L727.87,650.61 L728.84,650.64 L729.81,650.67 L730.77,650.7 L731.74,650.72 L732.71,650.75 L733.68,650.78 L734.64,650.81 L735.61,650.83 L736.58,650.86 L737.55,650.89 L738.51,650.92 L739.48,650.95 L740.45,650.97 L741.41,651 L742.38,651.03 L743.35,651.06 L744.32,651.09 L745.28,651.12 L746.25,651.15 L747.22,651.17 L748.19,651.2 L749.15,651.23 L750.12,651.26 L751.09,651.28 L752.06,651.31 L753.02,651.33 L753.99,651.36 L754.96,651.38 L755.92,651.41 L756.89,651.43 L757.86,651.46 L758.83,651.48 L759.79,651.51 L760.76,651.53 L761.73,651.55 L762.7,651.57 L763.66,651.6 L764.63,651.62 L765.6,651.64 L766.57,651.66 L767.53,651.68 L768.5,651.7" fill="none" stroke="#3a7bdc" stroke-width="1.6" stroke-linejoin="round"/>
<path d="M576,496.5 H769.3 V655.4 H576 Z" fill="none" stroke="#000" stroke-width="1.5"/>
<line x1="573" y1="653.9" x2="576" y2="653.9" stroke="#000" stroke-width="1.4"/>
<text x="569.7" y="657.5" font-size="10" font-weight="bold" text-anchor="end" fill="#000" stroke="#000" stroke-width="0.28">0.0</text>
<line x1="573" y1="614.5" x2="576" y2="614.5" stroke="#000" stroke-width="1.4"/>
<text x="569.7" y="618.1" font-size="10" font-weight="bold" text-anchor="end" fill="#000" stroke="#000" stroke-width="0.28">0.3</text>
<line x1="573" y1="575.1" x2="576" y2="575.1" stroke="#000" stroke-width="1.4"/>
<text x="569.7" y="578.7" font-size="10" font-weight="bold" text-anchor="end" fill="#000" stroke="#000" stroke-width="0.28">0.6</text>
<line x1="573" y1="535.7" x2="576" y2="535.7" stroke="#000" stroke-width="1.4"/>
<text x="569.7" y="539.3" font-size="10" font-weight="bold" text-anchor="end" fill="#000" stroke="#000" stroke-width="0.28">0.9</text>
<line x1="573" y1="496.3" x2="576" y2="496.3" stroke="#000" stroke-width="1.4"/>
<text x="569.7" y="499.9" font-size="10" font-weight="bold" text-anchor="end" fill="#000" stroke="#000" stroke-width="0.28">1.2</text>
<line x1="576" y1="655.4" x2="576" y2="658.4" stroke="#000" stroke-width="1.4"/>
<text x="576" y="669.3" font-size="10.3" font-weight="bold" text-anchor="middle" fill="#000" stroke="#000" stroke-width="0.28">400</text>
<line x1="640.1" y1="655.4" x2="640.1" y2="658.4" stroke="#000" stroke-width="1.4"/>
<text x="640.1" y="669.3" font-size="10.3" font-weight="bold" text-anchor="middle" fill="#000" stroke="#000" stroke-width="0.28">500</text>
<line x1="704.2" y1="655.4" x2="704.2" y2="658.4" stroke="#000" stroke-width="1.4"/>
<text x="704.2" y="669.3" font-size="10.3" font-weight="bold" text-anchor="middle" fill="#000" stroke="#000" stroke-width="0.28">600</text>
<line x1="768.3" y1="655.4" x2="768.3" y2="658.4" stroke="#000" stroke-width="1.4"/>
<text x="768.3" y="669.3" font-size="10.3" font-weight="bold" text-anchor="middle" fill="#000" stroke="#000" stroke-width="0.28">700</text>
<text x="677.9" y="684" font-size="13" font-weight="bold" text-anchor="middle" fill="#000" textLength="106.3" lengthAdjust="spacingAndGlyphs" stroke="#000" stroke-width="0.28">Wavelength (nm)</text>
<text transform="translate(547.3,576.5) rotate(-90)" x="0" y="0" font-size="11.2" font-weight="bold" text-anchor="middle" fill="#000" textLength="128.6" lengthAdjust="spacingAndGlyphs" stroke="#000" stroke-width="0.28">Normalized Intensity</text>
<line x1="665.5" y1="504.6" x2="683" y2="504.6" stroke="#555" stroke-width="1.6"/>
<line x1="665.5" y1="517.2" x2="683" y2="517.2" stroke="#ee3b3b" stroke-width="1.6"/>
<line x1="665.5" y1="529.5" x2="683" y2="529.5" stroke="#3a7bdc" stroke-width="1.6"/>
<text x="686.5" y="507.7" font-size="10.2" font-weight="bold" text-anchor="start" fill="#000" textLength="13.6" lengthAdjust="spacingAndGlyphs" stroke="#000" stroke-width="0.28">EB</text>
<text x="686.5" y="520.3" font-size="10.2" font-weight="bold" text-anchor="start" fill="#000" textLength="66.7" lengthAdjust="spacingAndGlyphs" stroke="#000" stroke-width="0.28">Cu-I@BSA-EB</text>
<text x="686.5" y="532.6" font-size="10.2" font-weight="bold" text-anchor="start" fill="#000" textLength="81.7" lengthAdjust="spacingAndGlyphs" stroke="#000" stroke-width="0.28">Cu-I@BSA-EBGA</text>
<path d="M56.3,728.3 H243.2 V892 H56.3 Z" fill="none" stroke="#000" stroke-width="1.5"/>
<path d="M56.3,889.2 L57.24,889.03 L58.18,888.86 L59.11,888.67 L60.05,888.46 L60.99,888.24 L61.93,888.03 L62.86,887.87 L63.8,887.8 L64.74,887.81 L65.68,887.89 L66.61,888.01 L67.55,888.14 L68.49,888.26 L69.43,888.36 L70.37,888.4 L71.3,888.35 L72.24,888.21 L73.18,887.96 L74.12,887.58 L75.05,887.04 L75.99,886.35 L76.93,885.47 L77.87,884.4 L78.8,883.13 L79.74,881.69 L80.68,880.09 L81.62,878.34 L82.56,876.46 L83.49,874.46 L84.43,872.37 L85.37,870.18 L86.31,867.88 L87.24,865.44 L88.18,862.87 L89.12,860.13 L90.06,857.21 L90.99,854.1 L91.93,850.78 L92.87,847.27 L93.81,843.58 L94.75,839.71 L95.68,835.7 L96.62,831.55 L97.56,827.25 L98.5,822.78 L99.43,818.11 L100.37,813.2 L101.31,808.03 L102.25,802.58 L103.18,796.94 L104.12,791.23 L105.06,785.56 L106,780.06 L106.94,774.84 L107.87,769.97 L108.81,765.48 L109.75,761.37 L110.69,757.67 L111.62,754.37 L112.56,751.5 L113.5,749.04 L114.44,746.94 L115.37,745.2 L116.31,743.77 L117.25,742.66 L118.19,741.85 L119.13,741.33 L120.06,741.11 L121,741.17 L121.94,741.47 L122.88,742 L123.81,742.73 L124.75,743.66 L125.69,744.81 L126.63,746.23 L127.56,747.93 L128.5,749.94 L129.44,752.22 L130.38,754.76 L131.32,757.53 L132.25,760.5 L133.19,763.66 L134.13,766.96 L135.07,770.4 L136,773.94 L136.94,777.55 L137.88,781.2 L138.82,784.87 L139.75,788.54 L140.69,792.18 L141.63,795.78 L142.57,799.32 L143.51,802.81 L144.44,806.21 L145.38,809.52 L146.32,812.73 L147.26,815.86 L148.19,818.89 L149.13,821.85 L150.07,824.72 L151.01,827.53 L151.94,830.27 L152.88,832.94 L153.82,835.53 L154.76,838.04 L155.69,840.46 L156.63,842.77 L157.57,844.99 L158.51,847.09 L159.45,849.08 L160.38,850.95 L161.32,852.72 L162.26,854.4 L163.2,855.98 L164.13,857.48 L165.07,858.9 L166.01,860.25 L166.95,861.54 L167.88,862.77 L168.82,863.96 L169.76,865.09 L170.7,866.18 L171.64,867.22 L172.57,868.21 L173.51,869.16 L174.45,870.07 L175.39,870.93 L176.32,871.76 L177.26,872.54 L178.2,873.28 L179.14,873.99 L180.07,874.66 L181.01,875.3 L181.95,875.9 L182.89,876.48 L183.83,877.02 L184.76,877.53 L185.7,878.02 L186.64,878.49 L187.58,878.93 L188.51,879.35 L189.45,879.75 L190.39,880.14 L191.33,880.5 L192.26,880.86 L193.2,881.2 L194.14,881.53 L195.08,881.86 L196.02,882.17 L196.95,882.47 L197.89,882.77 L198.83,883.07 L199.77,883.35 L200.7,883.64 L201.64,883.92 L202.58,884.19 L203.52,884.47 L204.45,884.75 L205.39,885.02 L206.33,885.3 L207.27,885.59 L208.21,885.9 L209.14,886.24 L210.08,886.61 L211.02,887.03 L211.96,887.5 L212.89,887.99 L213.83,888.48 L214.77,888.94 L215.71,889.34 L216.64,889.66 L217.58,889.89 L218.52,890.05 L219.46,890.14 L220.4,890.19 L221.33,890.19 L222.27,890.17 L223.21,890.12 L224.15,890.06 L225.08,890 L226.02,889.95 L226.96,889.91 L227.9,889.87 L228.83,889.84 L229.77,889.82 L230.71,889.81 L231.65,889.8 L232.59,889.8 L233.52,889.8 L234.46,889.81 L235.4,889.82 L236.34,889.83 L237.27,889.85 L238.21,889.87 L239.15,889.89 L240.09,889.92 L241.02,889.94 L241.96,889.97 L242.9,890" fill="none" stroke="#383838" stroke-width="1.35" stroke-linejoin="round"/>
<path d="M57,890.8 L57.93,890.79 L58.86,890.79 L59.8,890.78 L60.73,890.77 L61.66,890.77 L62.59,890.76 L63.53,890.76 L64.46,890.75 L65.39,890.74 L66.32,890.74 L67.25,890.73 L68.19,890.72 L69.12,890.72 L70.05,890.71 L70.98,890.7 L71.91,890.7 L72.85,890.69 L73.78,890.69 L74.71,890.68 L75.64,890.67 L76.58,890.67 L77.51,890.66 L78.44,890.65 L79.37,890.65 L80.3,890.64 L81.24,890.63 L82.17,890.63 L83.1,890.62 L84.03,890.61 L84.96,890.61 L85.9,890.6 L86.83,890.59 L87.76,890.59 L88.69,890.58 L89.63,890.57 L90.56,890.57 L91.49,890.56 L92.42,890.55 L93.35,890.55 L94.29,890.54 L95.22,890.53 L96.15,890.53 L97.08,890.52 L98.02,890.51 L98.95,890.51 L99.88,890.5 L100.81,890.49 L101.74,890.49 L102.68,890.48 L103.61,890.48 L104.54,890.47 L105.47,890.46 L106.4,890.46 L107.34,890.45 L108.27,890.45 L109.2,890.44 L110.13,890.44 L111.07,890.43 L112,890.43 L112.93,890.42 L113.86,890.42 L114.79,890.41 L115.73,890.41 L116.66,890.4 L117.59,890.4 L118.52,890.39 L119.45,890.39 L120.39,890.38 L121.32,890.38 L122.25,890.37 L123.18,890.36 L124.12,890.36 L125.05,890.35 L125.98,890.34 L126.91,890.34 L127.84,890.33 L128.78,890.32 L129.71,890.31 L130.64,890.31 L131.57,890.3 L132.51,890.29 L133.44,890.28 L134.37,890.27 L135.3,890.26 L136.23,890.25 L137.17,890.24 L138.1,890.23 L139.03,890.21 L139.96,890.2 L140.89,890.18 L141.83,890.16 L142.76,890.12 L143.69,890.08 L144.62,890.04 L145.56,889.99 L146.49,889.94 L147.42,889.89 L148.35,889.84 L149.28,889.79 L150.22,889.74 L151.15,889.7 L152.08,889.66 L153.01,889.63 L153.94,889.61 L154.88,889.6 L155.81,889.6 L156.74,889.6 L157.67,889.6 L158.61,889.61 L159.54,889.61 L160.47,889.61 L161.4,889.62 L162.33,889.63 L163.27,889.63 L164.2,889.64 L165.13,889.65 L166.06,889.66 L166.99,889.67 L167.93,889.68 L168.86,889.69 L169.79,889.7 L170.72,889.71 L171.66,889.72 L172.59,889.73 L173.52,889.74 L174.45,889.76 L175.38,889.77 L176.32,889.78 L177.25,889.79 L178.18,889.81 L179.11,889.82 L180.05,889.83 L180.98,889.84 L181.91,889.86 L182.84,889.87 L183.77,889.88 L184.71,889.89 L185.64,889.9 L186.57,889.91 L187.5,889.92 L188.43,889.93 L189.37,889.94 L190.3,889.95 L191.23,889.96 L192.16,889.97 L193.1,889.97 L194.03,889.98 L194.96,889.99 L195.89,889.99 L196.82,889.99 L197.76,890 L198.69,890 L199.62,890 L200.55,890 L201.48,890 L202.42,890 L203.35,890 L204.28,890 L205.21,889.99 L206.15,889.99 L207.08,889.99 L208.01,889.99 L208.94,889.98 L209.87,889.98 L210.81,889.97 L211.74,889.97 L212.67,889.96 L213.6,889.96 L214.54,889.95 L215.47,889.95 L216.4,889.94 L217.33,889.93 L218.26,889.92 L219.2,889.92 L220.13,889.91 L221.06,889.9 L221.99,889.89 L222.92,889.88 L223.86,889.87 L224.79,889.86 L225.72,889.85 L226.65,889.84 L227.59,889.83 L228.52,889.82 L229.45,889.81 L230.38,889.79 L231.31,889.78 L232.25,889.77 L233.18,889.75 L234.11,889.74 L235.04,889.73 L235.97,889.71 L236.91,889.7 L237.84,889.68 L238.77,889.67 L239.7,889.65 L240.64,889.63 L241.57,889.62 L242.5,889.6" fill="none" stroke="#ee3b3b" stroke-width="1.3" stroke-linejoin="round"/>
<path d="M57,890.5 L57.93,890.49 L58.86,890.49 L59.8,890.48 L60.73,890.48 L61.66,890.47 L62.59,890.47 L63.53,890.46 L64.46,890.46 L65.39,890.45 L66.32,890.45 L67.25,890.44 L68.19,890.43 L69.12,890.43 L70.05,890.42 L70.98,890.42 L71.91,890.41 L72.85,890.4 L73.78,890.4 L74.71,890.39 L75.64,890.39 L76.58,890.38 L77.51,890.37 L78.44,890.37 L79.37,890.36 L80.3,890.35 L81.24,890.35 L82.17,890.34 L83.1,890.33 L84.03,890.33 L84.96,890.32 L85.9,890.31 L86.83,890.3 L87.76,890.3 L88.69,890.29 L89.63,890.28 L90.56,890.28 L91.49,890.27 L92.42,890.26 L93.35,890.25 L94.29,890.25 L95.22,890.24 L96.15,890.23 L97.08,890.22 L98.02,890.22 L98.95,890.21 L99.88,890.2 L100.81,890.19 L101.74,890.19 L102.68,890.18 L103.61,890.17 L104.54,890.16 L105.47,890.16 L106.4,890.15 L107.34,890.14 L108.27,890.14 L109.2,890.13 L110.13,890.12 L111.07,890.12 L112,890.11 L112.93,890.1 L113.86,890.1 L114.79,890.09 L115.73,890.08 L116.66,890.07 L117.59,890.07 L118.52,890.06 L119.45,890.05 L120.39,890.04 L121.32,890.03 L122.25,890.03 L123.18,890.02 L124.12,890.01 L125.05,890 L125.98,889.99 L126.91,889.98 L127.84,889.97 L128.78,889.96 L129.71,889.95 L130.64,889.94 L131.57,889.93 L132.51,889.91 L133.44,889.9 L134.37,889.89 L135.3,889.88 L136.23,889.86 L137.17,889.85 L138.1,889.83 L139.03,889.82 L139.96,889.8 L140.89,889.78 L141.83,889.75 L142.76,889.72 L143.69,889.68 L144.62,889.63 L145.56,889.58 L146.49,889.53 L147.42,889.48 L148.35,889.43 L149.28,889.38 L150.22,889.34 L151.15,889.3 L152.08,889.26 L153.01,889.23 L153.94,889.21 L154.88,889.2 L155.81,889.2 L156.74,889.21 L157.67,889.23 L158.61,889.26 L159.54,889.3 L160.47,889.34 L161.4,889.38 L162.33,889.43 L163.27,889.49 L164.2,889.54 L165.13,889.59 L166.06,889.64 L166.99,889.69 L167.93,889.73 L168.86,889.77 L169.79,889.79 L170.72,889.82 L171.66,889.84 L172.59,889.86 L173.52,889.88 L174.45,889.91 L175.38,889.93 L176.32,889.95 L177.25,889.97 L178.18,889.99 L179.11,890.01 L180.05,890.02 L180.98,890.04 L181.91,890.06 L182.84,890.08 L183.77,890.09 L184.71,890.11 L185.64,890.13 L186.57,890.14 L187.5,890.16 L188.43,890.17 L189.37,890.18 L190.3,890.2 L191.23,890.21 L192.16,890.22 L193.1,890.23 L194.03,890.24 L194.96,890.25 L195.89,890.26 L196.82,890.27 L197.76,890.28 L198.69,890.29 L199.62,890.3 L200.55,890.3 L201.48,890.31 L202.42,890.32 L203.35,890.33 L204.28,890.33 L205.21,890.34 L206.15,890.35 L207.08,890.35 L208.01,890.36 L208.94,890.37 L209.87,890.37 L210.81,890.38 L211.74,890.38 L212.67,890.39 L213.6,890.4 L214.54,890.4 L215.47,890.41 L216.4,890.41 L217.33,890.42 L218.26,890.42 L219.2,890.43 L220.13,890.43 L221.06,890.44 L221.99,890.44 L222.92,890.45 L223.86,890.45 L224.79,890.46 L225.72,890.46 L226.65,890.47 L227.59,890.47 L228.52,890.47 L229.45,890.48 L230.38,890.48 L231.31,890.48 L232.25,890.48 L233.18,890.49 L234.11,890.49 L235.04,890.49 L235.97,890.49 L236.91,890.5 L237.84,890.5 L238.77,890.5 L239.7,890.5 L240.64,890.5 L241.57,890.5 L242.5,890.5" fill="none" stroke="#3a7bdc" stroke-width="2" stroke-linejoin="round"/>
<line x1="53.3" y1="890.5" x2="56.3" y2="890.5" stroke="#000" stroke-width="1.4"/>
<text x="50.8" y="894.2" font-size="10.3" font-weight="bold" text-anchor="end" fill="#000" stroke="#000" stroke-width="0.28">0</text>
<line x1="53.3" y1="850" x2="56.3" y2="850" stroke="#000" stroke-width="1.4"/>
<text x="50.8" y="853.7" font-size="10.3" font-weight="bold" text-anchor="end" fill="#000" stroke="#000" stroke-width="0.28">2500</text>
<line x1="53.3" y1="809.5" x2="56.3" y2="809.5" stroke="#000" stroke-width="1.4"/>
<text x="50.8" y="813.2" font-size="10.3" font-weight="bold" text-anchor="end" fill="#000" stroke="#000" stroke-width="0.28">5000</text>
<line x1="53.3" y1="769" x2="56.3" y2="769" stroke="#000" stroke-width="1.4"/>
<text x="50.8" y="772.7" font-size="10.3" font-weight="bold" text-anchor="end" fill="#000" stroke="#000" stroke-width="0.28">7500</text>
<line x1="53.3" y1="728.5" x2="56.3" y2="728.5" stroke="#000" stroke-width="1.4"/>
<text x="50.8" y="732.2" font-size="10.3" font-weight="bold" text-anchor="end" fill="#000" stroke="#000" stroke-width="0.28">10000</text>
<line x1="56.3" y1="892" x2="56.3" y2="894.8" stroke="#000" stroke-width="1.4"/>
<text x="56.3" y="906.3" font-size="10.2" font-weight="bold" text-anchor="middle" fill="#000" stroke="#000" stroke-width="0.28">400</text>
<line x1="103.02" y1="892" x2="103.02" y2="894.8" stroke="#000" stroke-width="1.4"/>
<text x="103.02" y="906.3" font-size="10.2" font-weight="bold" text-anchor="middle" fill="#000" stroke="#000" stroke-width="0.28">500</text>
<line x1="149.74" y1="892" x2="149.74" y2="894.8" stroke="#000" stroke-width="1.4"/>
<text x="149.74" y="906.3" font-size="10.2" font-weight="bold" text-anchor="middle" fill="#000" stroke="#000" stroke-width="0.28">600</text>
<line x1="196.46" y1="892" x2="196.46" y2="894.8" stroke="#000" stroke-width="1.4"/>
<text x="196.46" y="906.3" font-size="10.2" font-weight="bold" text-anchor="middle" fill="#000" stroke="#000" stroke-width="0.28">700</text>
<line x1="243.18" y1="892" x2="243.18" y2="894.8" stroke="#000" stroke-width="1.4"/>
<text x="243.18" y="906.3" font-size="10.2" font-weight="bold" text-anchor="middle" fill="#000" stroke="#000" stroke-width="0.28">800</text>
<text x="148" y="925" font-size="13.6" font-weight="bold" text-anchor="middle" fill="#000" textLength="110" lengthAdjust="spacingAndGlyphs" stroke="#000" stroke-width="0.28">Wavelength (nm)</text>
<text transform="translate(20.7,805.4) rotate(-90)" x="0" y="0" font-size="13.4" font-weight="bold" text-anchor="middle" fill="#000" textLength="55.4" lengthAdjust="spacingAndGlyphs" stroke="#000" stroke-width="0.28">Intensity</text>
<line x1="132.8" y1="737" x2="153.4" y2="737" stroke="#333" stroke-width="1.6"/>
<line x1="132.8" y1="750.1" x2="153.4" y2="750.1" stroke="#ee3b3b" stroke-width="1.6"/>
<line x1="132.8" y1="762.7" x2="153.4" y2="762.7" stroke="#3a7bdc" stroke-width="1.6"/>
<text x="157.5" y="740.6" font-size="10.5" font-weight="bold" text-anchor="start" fill="#000" textLength="50.8" lengthAdjust="spacingAndGlyphs" stroke="#000" stroke-width="0.28">Cu-I@BSA</text>
<text x="157.5" y="753.5" font-size="10.5" font-weight="bold" text-anchor="start" fill="#000" textLength="67" lengthAdjust="spacingAndGlyphs" stroke="#000" stroke-width="0.28">Cu-I@BSA-EB</text>
<text x="157.5" y="766.3" font-size="10.5" font-weight="bold" text-anchor="start" fill="#000" textLength="83" lengthAdjust="spacingAndGlyphs" stroke="#000" stroke-width="0.28">Cu-I@BSA-EBGA</text>
<path d="M327.6,731.2 H486 V894.2 H327.6 Z" fill="none" stroke="#222" stroke-width="1.2"/>
<line x1="324.6" y1="894.2" x2="327.6" y2="894.2" stroke="#222" stroke-width="1.1"/>
<text x="323.1" y="898.2" font-size="11.3" font-weight="normal" text-anchor="end" fill="#333">10</text>
<line x1="324.6" y1="847.5" x2="327.6" y2="847.5" stroke="#222" stroke-width="1.1"/>
<text x="323.1" y="851.5" font-size="11.3" font-weight="normal" text-anchor="end" fill="#333">20</text>
<line x1="324.6" y1="800.8" x2="327.6" y2="800.8" stroke="#222" stroke-width="1.1"/>
<text x="323.1" y="804.8" font-size="11.3" font-weight="normal" text-anchor="end" fill="#333">30</text>
<line x1="324.6" y1="754.1" x2="327.6" y2="754.1" stroke="#222" stroke-width="1.1"/>
<text x="323.1" y="758.1" font-size="11.3" font-weight="normal" text-anchor="end" fill="#333">40</text>
<path d="M339.2,894.2 V877.6 H355.2 V894.2" fill="none" stroke="#000" stroke-width="1.6"/>
<line x1="338.7" y1="877.6" x2="355.7" y2="877.6" stroke="#000" stroke-width="2"/>
<line x1="347.2" y1="894.2" x2="347.2" y2="897.2" stroke="#222" stroke-width="1.1"/>
<text x="347.2" y="910" font-size="11.5" font-weight="normal" text-anchor="middle" fill="#333" textLength="23.5" lengthAdjust="spacingAndGlyphs">0 Gy</text>
<path d="M345.7,875.2 L347.6,873.3 L349.5,875.2 L347.6,877.1 Z" fill="#000"/>
<path d="M346.3,879.9 L348.2,878 L350.1,879.9 L348.2,881.8 Z" fill="#000"/>
<path d="M345.9,877.6 L347.8,875.7 L349.7,877.6 L347.8,879.5 Z" fill="#000"/>
<path d="M378.7,894.2 V819.6 H395.1 V894.2" fill="none" stroke="#ff2a2a" stroke-width="1.6"/>
<line x1="378.2" y1="819.6" x2="395.6" y2="819.6" stroke="#ff2a2a" stroke-width="2"/>
<line x1="386.9" y1="894.2" x2="386.9" y2="897.2" stroke="#222" stroke-width="1.1"/>
<text x="386.9" y="910" font-size="11.5" font-weight="normal" text-anchor="middle" fill="#333" textLength="23.5" lengthAdjust="spacingAndGlyphs">1 Gy</text>
<path d="M385.4,817.2 L387.3,815.3 L389.2,817.2 L387.3,819.1 Z" fill="#ff2a2a"/>
<path d="M386,821.9 L387.9,820 L389.8,821.9 L387.9,823.8 Z" fill="#ff2a2a"/>
<path d="M385.6,819.6 L387.5,817.7 L389.4,819.6 L387.5,821.5 Z" fill="#ff2a2a"/>
<path d="M418.5,894.2 V789.5 H434.5 V894.2" fill="none" stroke="#1aee1a" stroke-width="1.6"/>
<line x1="418" y1="789.5" x2="435" y2="789.5" stroke="#1aee1a" stroke-width="2"/>
<line x1="426.5" y1="894.2" x2="426.5" y2="897.2" stroke="#222" stroke-width="1.1"/>
<text x="426.5" y="910" font-size="11.5" font-weight="normal" text-anchor="middle" fill="#333" textLength="23.5" lengthAdjust="spacingAndGlyphs">2 Gy</text>
<path d="M425,787.1 L426.9,785.2 L428.8,787.1 L426.9,789 Z" fill="#1aee1a"/>
<path d="M425.6,791.8 L427.5,789.9 L429.4,791.8 L427.5,793.7 Z" fill="#1aee1a"/>
<path d="M425.2,789.5 L427.1,787.6 L429,789.5 L427.1,791.4 Z" fill="#1aee1a"/>
<path d="M458.7,894.2 V752.8 H474.4 V894.2" fill="none" stroke="#2020ff" stroke-width="1.6"/>
<line x1="458.2" y1="752.8" x2="474.9" y2="752.8" stroke="#2020ff" stroke-width="2"/>
<line x1="466.55" y1="894.2" x2="466.55" y2="897.2" stroke="#222" stroke-width="1.1"/>
<text x="466.55" y="910" font-size="11.5" font-weight="normal" text-anchor="middle" fill="#333" textLength="23.5" lengthAdjust="spacingAndGlyphs">4 Gy</text>
<path d="M465.05,750.4 L466.95,748.5 L468.85,750.4 L466.95,752.3 Z" fill="#2020ff"/>
<path d="M465.65,755.1 L467.55,753.2 L469.45,755.1 L467.55,757 Z" fill="#2020ff"/>
<path d="M465.25,752.8 L467.15,750.9 L469.05,752.8 L467.15,754.7 Z" fill="#2020ff"/>
<text transform="translate(290,814.8) rotate(-90)" x="0" y="0" font-size="10.8" font-weight="bold" text-anchor="middle" fill="#000" textLength="121.5" lengthAdjust="spacingAndGlyphs" stroke="#000" stroke-width="0.28">Fluorescence intensity</text>
<text transform="translate(303,812.7) rotate(-90)" x="0" y="0" font-size="10.8" font-weight="bold" text-anchor="middle" fill="#000" textLength="100.4" lengthAdjust="spacingAndGlyphs" stroke="#000" stroke-width="0.28">of SOSG at 525 nm</text>
<path d="M573.6,876.79 L574.6,876.57 L575.6,876.11 L576.61,875.38 L577.61,875.62 L578.61,875.19 L579.61,874.65 L580.61,874.64 L581.62,874.31 L582.62,874.02 L583.62,873.7 L584.62,873.58 L585.62,873.02 L586.63,872.92 L587.63,872.61 L588.63,872.66 L589.63,872.31 L590.63,872.01 L591.64,871.69 L592.64,871.63 L593.64,871.51 L594.64,871.27 L595.64,871.51 L596.65,871.31 L597.65,870.25 L598.65,870.33 L599.65,870.63 L600.65,870.43 L601.66,870.44 L602.66,870.28 L603.66,870.57 L604.66,869.54 L605.66,869.45 L606.67,869.73 L607.67,869.02 L608.67,868.62 L609.67,867.89 L610.67,867.15 L611.68,867.13 L612.68,866.63 L613.68,865.81 L614.68,865.45 L615.68,865.08 L616.69,864.33 L617.69,863.96 L618.69,863.39 L619.69,862.7 L620.69,861.83 L621.7,861.3 L622.7,860.45 L623.7,859.26 L624.7,857.81 L625.7,856.94 L626.71,855.29 L627.71,854.21 L628.71,852.24 L629.71,851.21 L630.71,849.41 L631.72,847.41 L632.72,845.77 L633.72,843.86 L634.72,841.83 L635.72,839.38 L636.73,837.2 L637.73,835.42 L638.73,833.21 L639.73,831.19 L640.73,829.02 L641.74,826.21 L642.74,824.77 L643.74,823.57 L644.74,822.17 L645.74,821.18 L646.75,820.83 L647.75,820.06 L648.75,819.66 L649.75,818.85 L650.75,818.16 L651.76,818.16 L652.76,817.77 L653.76,817.8 L654.76,817.38 L655.76,816.63 L656.77,816.4 L657.77,816.51 L658.77,815.96 L659.77,815.02 L660.77,814.27 L661.78,813.13 L662.78,811.57 L663.78,809.87 L664.78,807.71 L665.78,805.02 L666.79,801.42 L667.79,797.7 L668.79,792.85 L669.79,789.86 L670.79,787.11 L671.8,784.08 L672.8,782.05 L673.8,779.61 L674.8,778.17 L675.81,776.55 L676.81,775.47 L677.81,774.4 L678.81,773.13 L679.81,771.95 L680.82,771.19 L681.82,771.75 L682.82,771.61 L683.82,772.69 L684.82,774.81 L685.83,777.11 L686.83,780.03 L687.83,782.74 L688.83,786.81 L689.83,791.67 L690.84,797.63 L691.84,803.21 L692.84,809.62 L693.84,816.58 L694.84,823.19 L695.85,830.47 L696.85,838.41 L697.85,845.22 L698.85,850.27 L699.85,856.08 L700.86,862 L701.86,866.32 L702.86,869.94 L703.86,872.41 L704.86,874.79 L705.87,876.44 L706.87,878.24 L707.87,879.47 L708.87,880.35 L709.87,881.23 L710.88,881.69 L711.88,882.49 L712.88,882.72 L713.88,883.19 L714.88,884.23 L715.89,884.22 L716.89,884.53 L717.89,884.93 L718.89,884.9 L719.89,885.11 L720.9,885.38 L721.9,885.45 L722.9,885.19 L723.9,885.78 L724.9,885.5 L725.91,885.46 L726.91,885.57 L727.91,885.77 L728.91,886.33 L729.91,885.68 L730.92,886.07 L731.92,885.55 L732.92,886.13 L733.92,886.4 L734.92,886.16 L735.93,886.1 L736.93,886.36 L737.93,886.52 L738.93,886.55 L739.93,886.93 L740.94,886.53 L741.94,886.38 L742.94,886.55 L743.94,886.61 L744.94,886.71 L745.95,886.72 L746.95,886.82 L747.95,886.41 L748.95,887.08 L749.95,886.77 L750.96,886.67 L751.96,887.17 L752.96,887.38 L753.96,887.22 L754.96,887.18 L755.97,886.95 L756.97,887.94 L757.97,887.49 L758.97,887.02 L759.97,887.15 L760.98,887.41 L761.98,887.04 L762.98,887.51 L763.98,887.39 L764.98,887.85 L765.99,887.82 L766.99,886.93 L767.99,887.65 L768.99,887.27 L769.99,887.99 L771,887.78 L772,887.91 L773,887.53" fill="none" stroke="#444" stroke-width="1.3" stroke-linejoin="round"/>
<path d="M573.6,883.15 L574.6,882.74 L575.6,882.56 L576.61,881.84 L577.61,882.7 L578.61,882.35 L579.61,881.81 L580.61,881.91 L581.62,881.63 L582.62,881.27 L583.62,881.52 L584.62,881.06 L585.62,880.94 L586.63,880.72 L587.63,880.93 L588.63,880.7 L589.63,880.78 L590.63,880.43 L591.64,880.56 L592.64,880.25 L593.64,880.65 L594.64,880.46 L595.64,880.49 L596.65,880.5 L597.65,880.17 L598.65,880.66 L599.65,881.03 L600.65,880.19 L601.66,880.25 L602.66,880.4 L603.66,881.09 L604.66,881.02 L605.66,881.36 L606.67,881.37 L607.67,881.33 L608.67,881.43 L609.67,881.38 L610.67,881.69 L611.68,881.21 L612.68,881.39 L613.68,881.49 L614.68,881.75 L615.68,880.92 L616.69,880.61 L617.69,880.47 L618.69,880.55 L619.69,879.92 L620.69,879.97 L621.7,878.81 L622.7,879.21 L623.7,878.83 L624.7,877.88 L625.7,877.95 L626.71,877.93 L627.71,877.39 L628.71,877.39 L629.71,877.52 L630.71,876.78 L631.72,876.43 L632.72,876.1 L633.72,876.25 L634.72,875.85 L635.72,875.65 L636.73,875.48 L637.73,875.48 L638.73,874.86 L639.73,874.56 L640.73,874.15 L641.74,874.88 L642.74,874.42 L643.74,874.6 L644.74,874.04 L645.74,873.69 L646.75,873.81 L647.75,873.5 L648.75,873.03 L649.75,872.95 L650.75,873.44 L651.76,872.92 L652.76,872.77 L653.76,872.43 L654.76,872.17 L655.76,872.4 L656.77,872 L657.77,871.67 L658.77,871.67 L659.77,871.32 L660.77,871.43 L661.78,871.51 L662.78,870.85 L663.78,871.25 L664.78,870.55 L665.78,870.57 L666.79,870.11 L667.79,870.03 L668.79,869.86 L669.79,869.5 L670.79,869.2 L671.8,869.01 L672.8,868.8 L673.8,868.49 L674.8,868.75 L675.81,868.91 L676.81,869.11 L677.81,869.19 L678.81,869.86 L679.81,869.59 L680.82,869.7 L681.82,870.63 L682.82,870.26 L683.82,871.17 L684.82,871.3 L685.83,872.41 L686.83,872.73 L687.83,874.43 L688.83,875.15 L689.83,875.91 L690.84,877.44 L691.84,877.97 L692.84,878.58 L693.84,879.18 L694.84,880.15 L695.85,880.89 L696.85,881.86 L697.85,882.58 L698.85,882.85 L699.85,883.45 L700.86,883.92 L701.86,884.08 L702.86,884.57 L703.86,884.98 L704.86,885.45 L705.87,885.86 L706.87,885.56 L707.87,886.11 L708.87,886.06 L709.87,886.87 L710.88,886.51 L711.88,886.79 L712.88,886.56 L713.88,886.7 L714.88,887.05 L715.89,886.99 L716.89,887.25 L717.89,886.84 L718.89,887.47 L719.89,887.15 L720.9,887.87 L721.9,887.43 L722.9,887.83 L723.9,887.26 L724.9,887.77 L725.91,887.49 L726.91,887.64 L727.91,887.82 L728.91,887.77 L729.91,887.96 L730.92,888.12 L731.92,888.14 L732.92,887.99 L733.92,887.71 L734.92,887.88 L735.93,888.07 L736.93,887.62 L737.93,888.38 L738.93,888.16 L739.93,888.19 L740.94,888.52 L741.94,888.49 L742.94,888.41 L743.94,888.14 L744.94,888.5 L745.95,888.54 L746.95,888.26 L747.95,888.78 L748.95,888.68 L749.95,888.09 L750.96,888.64 L751.96,888.32 L752.96,888.95 L753.96,888.9 L754.96,888.45 L755.97,888.53 L756.97,888.81 L757.97,888.75 L758.97,889.21 L759.97,889.04 L760.98,888.81 L761.98,889.05 L762.98,888.42 L763.98,889.03 L764.98,889.19 L765.99,888.94 L766.99,888.83 L767.99,889.17 L768.99,889.53 L769.99,889.11 L771,888.79 L772,889.45 L773,888.63" fill="none" stroke="#ee3333" stroke-width="1.3" stroke-linejoin="round"/>
<path d="M573.6,726.4 H773.5 V889.9 H573.6 Z" fill="none" stroke="#000" stroke-width="1.5"/>
<line x1="570.6" y1="874.4" x2="573.6" y2="874.4" stroke="#000" stroke-width="1.4"/>
<text x="567.6" y="878" font-size="10.7" font-weight="bold" text-anchor="end" fill="#000" stroke="#000" stroke-width="0.28">0.1</text>
<line x1="570.6" y1="841.55" x2="573.6" y2="841.55" stroke="#000" stroke-width="1.4"/>
<text x="567.6" y="845.15" font-size="10.7" font-weight="bold" text-anchor="end" fill="#000" stroke="#000" stroke-width="0.28">0.2</text>
<line x1="570.6" y1="808.7" x2="573.6" y2="808.7" stroke="#000" stroke-width="1.4"/>
<text x="567.6" y="812.3" font-size="10.7" font-weight="bold" text-anchor="end" fill="#000" stroke="#000" stroke-width="0.28">0.3</text>
<line x1="570.6" y1="775.85" x2="573.6" y2="775.85" stroke="#000" stroke-width="1.4"/>
<text x="567.6" y="779.45" font-size="10.7" font-weight="bold" text-anchor="end" fill="#000" stroke="#000" stroke-width="0.28">0.4</text>
<line x1="570.6" y1="743" x2="573.6" y2="743" stroke="#000" stroke-width="1.4"/>
<text x="567.6" y="746.6" font-size="10.7" font-weight="bold" text-anchor="end" fill="#000" stroke="#000" stroke-width="0.28">0.5</text>
<line x1="573.6" y1="889.9" x2="573.6" y2="892.9" stroke="#000" stroke-width="1.4"/>
<text x="573.6" y="904.6" font-size="10.7" font-weight="bold" text-anchor="middle" fill="#000" stroke="#000" stroke-width="0.28">500</text>
<line x1="640.1" y1="889.9" x2="640.1" y2="892.9" stroke="#000" stroke-width="1.4"/>
<text x="640.1" y="904.6" font-size="10.7" font-weight="bold" text-anchor="middle" fill="#000" stroke="#000" stroke-width="0.28">600</text>
<line x1="706.6" y1="889.9" x2="706.6" y2="892.9" stroke="#000" stroke-width="1.4"/>
<text x="706.6" y="904.6" font-size="10.7" font-weight="bold" text-anchor="middle" fill="#000" stroke="#000" stroke-width="0.28">700</text>
<line x1="773.1" y1="889.9" x2="773.1" y2="892.9" stroke="#000" stroke-width="1.4"/>
<text x="773.1" y="904.6" font-size="10.7" font-weight="bold" text-anchor="middle" fill="#000" stroke="#000" stroke-width="0.28">800</text>
<text x="668.6" y="925" font-size="13.2" font-weight="bold" text-anchor="middle" fill="#000" textLength="106.3" lengthAdjust="spacingAndGlyphs" stroke="#000" stroke-width="0.28">Wavelength(nm)</text>
<text transform="translate(545.5,804.2) rotate(-90)" x="0" y="0" font-size="12.2" font-weight="bold" text-anchor="middle" fill="#000" textLength="78.3" lengthAdjust="spacingAndGlyphs" stroke="#000" stroke-width="0.28">Absorbance</text>
<line x1="576.6" y1="736.3" x2="595.8" y2="736.3" stroke="#555" stroke-width="1.6"/>
<line x1="576.6" y1="749.5" x2="595.8" y2="749.5" stroke="#ee3333" stroke-width="1.6"/>
<text x="599" y="739.3" font-size="10.8" font-weight="bold" text-anchor="start" fill="#000" textLength="117.8" lengthAdjust="spacingAndGlyphs" stroke="#000" stroke-width="0.28">Cu-I@BSA-EBGA + MB</text>
<text x="599.8" y="753.3" font-size="10.8" font-weight="bold" stroke="#000" stroke-width="0.28">Cu-I@BSA-EBGA + MB + H<tspan font-size="8" dy="2.5">2</tspan><tspan dy="-2.5">O</tspan><tspan font-size="8" dy="2.5">2</tspan></text>
</svg>
</body></html>
